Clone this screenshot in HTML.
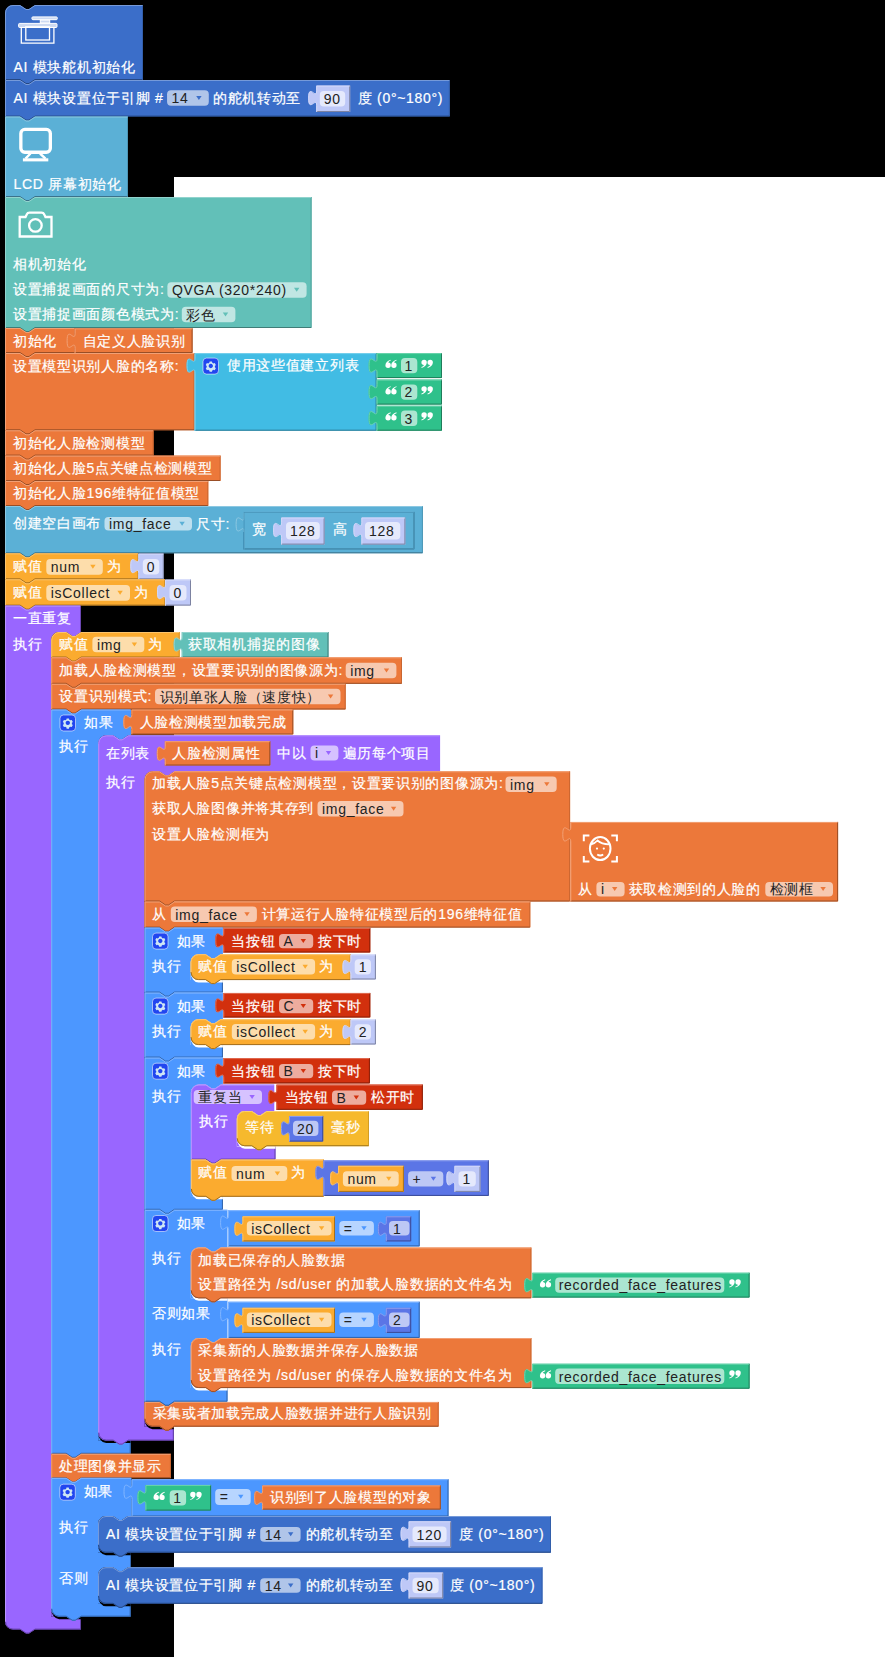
<!DOCTYPE html>
<html><head><meta charset="utf-8"><style>
html,body{margin:0;padding:0;background:#000;}
body{width:885px;height:1657px;overflow:hidden;position:relative;}
svg{position:absolute;left:0;top:0;}
text{font-family:"Liberation Sans", sans-serif;}
</style></head><body>
<svg width="885" height="1657" viewBox="0 0 885 1657">
<rect x="0" y="0" width="885" height="1657" fill="#000"/>
<rect x="174" y="177" width="711" height="1480" fill="#fff"/>
<path d="M 5,13 a 8,8 0 0,1 8,-8 H 20 l 6,4 3,0 6,-4 H 143 V 80 H 35 l -6,4 -3,0 -6,-4 H 5 Z" fill="#3b6ec9"/>
<path d="M 142.5,5 V 79.5" fill="none" stroke="#325eab" stroke-width="1"/>
<path d="M 142.5,79.5 H 35 l -6,4 -3,0 -6,-4 H 5" fill="none" stroke="#264883" stroke-width="1"/>
<path d="M 5.5,80 V 13 a 7.5,7.5 0 0,1 7.5,-7.5 H 20 l 6,4 3,0 6,-4 H 142.5" fill="none" stroke="#769ad9" stroke-width="1"/>
<g fill="#fff" fill-opacity="0.75" stroke="#fff" stroke-width="1"><rect x="31.9" y="16.9" width="25.4" height="2.8" rx="1"/><rect x="40.3" y="20" width="9.4" height="3" /><rect x="18.6" y="23.4" width="38.4" height="4.1" rx="1"/></g>
<g fill="none" stroke="#fff" stroke-width="1.3"><path d="M 21.3,27.5 V 43.1 H 53.9 V 27.5"/><rect x="25.8" y="26.8" width="23.7" height="13.2"/></g>
<text x="13.5" y="71.5" fill="#fff" stroke="#fff" stroke-width="0.2" font-size="14" letter-spacing="0.7">AI 模块舵机初始化</text>
<path d="M 5,80 H 20 l 6,4 3,0 6,-4 H 449.8 V 116.6 H 35 l -6,4 -3,0 -6,-4 H 5 Z" fill="#3b6ec9"/>
<path d="M 449.3,80 V 116.1" fill="none" stroke="#325eab" stroke-width="1"/>
<path d="M 449.3,116.1 H 35 l -6,4 -3,0 -6,-4 H 5" fill="none" stroke="#264883" stroke-width="1"/>
<path d="M 5.5,116.6 V 80.5 H 20 l 6,4 3,0 6,-4 H 449.3" fill="none" stroke="#769ad9" stroke-width="1"/>
<text x="13.5" y="102.5" fill="#fff" stroke="#fff" stroke-width="0.2" font-size="14" letter-spacing="0.7">AI 模块设置位于引脚 #</text>
<rect x="167.05" y="90.2" width="41.75" height="15.6" rx="4" fill="#fff" fill-opacity="0.6"/>
<text x="171.55" y="103.3" fill="#222" stroke="#222" stroke-width="0" font-size="14" letter-spacing="0.7">14</text>
<path d="M 196.2,95.9 h 5.4 l -2.7,4 Z" fill="#3b6ec9"/>
<text x="213" y="102.5" fill="#fff" stroke="#fff" stroke-width="0.2" font-size="14" letter-spacing="0.7">的舵机转动至</text>
<path d="M 316.2,85.6 H 350.2 V 112 H 316.2 V 105.6 c 0,-10 -8,8 -8,-7.5 s 8,2.5 8,-7.5 Z" fill="#bec8f7"/>
<path d="M 349.7,85.6 V 111.5 H 316.2" fill="none" stroke="#7c82a1" stroke-width="1"/>
<path d="M 316.7,112 V 105.6 c 0,-10 -8,8 -8,-7.5 s 8,2.5 8,-7.5 V 86.1 H 349.7" fill="none" stroke="#d2d8f9" stroke-width="1"/>
<rect x="319.8" y="91" width="25.4" height="15.6" rx="4" fill="#fff" fill-opacity="0.6"/>
<text x="323.8" y="104.1" fill="#222" stroke="#222" stroke-width="0" font-size="14" letter-spacing="0.7">90</text>
<text x="357.8" y="102.5" fill="#fff" stroke="#fff" stroke-width="0.2" font-size="14" letter-spacing="0.7">度 (0°~180°)</text>
<path d="M 5,116.5 H 20 l 6,4 3,0 6,-4 H 128 V 197 H 35 l -6,4 -3,0 -6,-4 H 5 Z" fill="#5bb0d6"/>
<path d="M 127.5,116.5 V 196.5" fill="none" stroke="#4d96b6" stroke-width="1"/>
<path d="M 127.5,196.5 H 35 l -6,4 -3,0 -6,-4 H 5" fill="none" stroke="#3b728b" stroke-width="1"/>
<path d="M 5.5,197 V 117 H 20 l 6,4 3,0 6,-4 H 127.5" fill="none" stroke="#8cc8e2" stroke-width="1"/>
<g fill="none" stroke="#fff" stroke-width="3.3"><rect x="20.85" y="129.45" width="29.5" height="22.8" rx="4"/></g><path d="M 30.5,153.5 L 25.5,158.6 M 40,153.5 L 45.5,158.6" fill="none" stroke="#fff" stroke-width="2.4"/><rect x="22.9" y="158.3" width="25.4" height="3.1" fill="#fff"/>
<text x="13.5" y="188.5" fill="#fff" stroke="#fff" stroke-width="0.2" font-size="14" letter-spacing="0.7">LCD 屏幕初始化</text>
<path d="M 5,197 H 20 l 6,4 3,0 6,-4 H 311.6 V 328 H 35 l -6,4 -3,0 -6,-4 H 5 Z" fill="#62c0b8"/>
<path d="M 311.1,197 V 327.5" fill="none" stroke="#53a39c" stroke-width="1"/>
<path d="M 311.1,327.5 H 35 l -6,4 -3,0 -6,-4 H 5" fill="none" stroke="#407d78" stroke-width="1"/>
<path d="M 5.5,328 V 197.5 H 20 l 6,4 3,0 6,-4 H 311.1" fill="none" stroke="#91d3cd" stroke-width="1"/>
<path d="M 19.7,217 H 25.5 l 1.2,-2.5 q 0.8,-1.8 2.8,-1.8 H 41.5 q 2,0 2.8,1.8 l 1.2,2.5 H 51.5 V 236.5 H 19.7 Z" fill="none" stroke="#fff" stroke-width="2.3"/><circle cx="35.4" cy="225.4" r="6.3" fill="none" stroke="#fff" stroke-width="2.3"/>
<text x="13" y="268.5" fill="#fff" stroke="#fff" stroke-width="0.2" font-size="14" letter-spacing="0.7">相机初始化</text>
<text x="13" y="293.9" fill="#fff" stroke="#fff" stroke-width="0.2" font-size="14" letter-spacing="0.7">设置捕捉画面的尺寸为:</text>
<rect x="167.4" y="282.2" width="139.2" height="15.5" rx="4" fill="#fff" fill-opacity="0.6"/>
<text x="171.9" y="295.25" fill="#222" stroke="#222" stroke-width="0" font-size="14" letter-spacing="0.7">QVGA (320*240)</text>
<path d="M 294,287.85 h 5.4 l -2.7,4 Z" fill="#62c0b8"/>
<text x="13" y="319.2" fill="#fff" stroke="#fff" stroke-width="0.2" font-size="14" letter-spacing="0.7">设置捕捉画面颜色模式为:</text>
<rect x="181.8" y="306.8" width="53.6" height="15.5" rx="4" fill="#fff" fill-opacity="0.6"/>
<text x="186.3" y="319.85" fill="#222" stroke="#222" stroke-width="0" font-size="14" letter-spacing="0.7">彩色</text>
<path d="M 222.8,312.45 h 5.4 l -2.7,4 Z" fill="#62c0b8"/>
<path d="M 5,328 H 20 l 6,4 3,0 6,-4 H 75 V 353 H 35 l -6,4 -3,0 -6,-4 H 5 Z" fill="#ec783a"/>
<path d="M 74.5,328 V 352.5" fill="none" stroke="#c96631" stroke-width="1"/>
<path d="M 74.5,352.5 H 35 l -6,4 -3,0 -6,-4 H 5" fill="none" stroke="#994e26" stroke-width="1"/>
<path d="M 5.5,353 V 328.5 H 20 l 6,4 3,0 6,-4 H 74.5" fill="none" stroke="#f2a075" stroke-width="1"/>
<text x="13" y="345.5" fill="#fff" stroke="#fff" stroke-width="0.2" font-size="14" letter-spacing="0.7">初始化</text>
<path d="M 74.6,328.3 H 192.6 V 353 H 74.6 V 348.3 c 0,-10 -8,8 -8,-7.5 s 8,2.5 8,-7.5 Z" fill="#ec783a"/>
<path d="M 192.1,328.3 V 352.5 H 74.6" fill="none" stroke="#994e26" stroke-width="1"/>
<path d="M 75.1,353 V 348.3 c 0,-10 -8,8 -8,-7.5 s 8,2.5 8,-7.5 V 328.8 H 192.1" fill="none" stroke="#f2a075" stroke-width="1"/>
<text x="82.5" y="345.5" fill="#fff" stroke="#fff" stroke-width="0.2" font-size="14" letter-spacing="0.7">自定义人脸识别</text>
<path d="M 5,353 H 20 l 6,4 3,0 6,-4 H 194.5 V 430.3 H 35 l -6,4 -3,0 -6,-4 H 5 Z" fill="#ec783a"/>
<path d="M 194,353 V 429.8" fill="none" stroke="#c96631" stroke-width="1"/>
<path d="M 194,429.8 H 35 l -6,4 -3,0 -6,-4 H 5" fill="none" stroke="#994e26" stroke-width="1"/>
<path d="M 5.5,430.3 V 353.5 H 20 l 6,4 3,0 6,-4 H 194" fill="none" stroke="#f2a075" stroke-width="1"/>
<text x="13" y="370.5" fill="#fff" stroke="#fff" stroke-width="0.2" font-size="14" letter-spacing="0.7">设置模型识别人脸的名称:</text>
<path d="M 194.6,353.1 H 376.6 V 430.7 H 194.6 V 373.1 c 0,-10 -8,8 -8,-7.5 s 8,2.5 8,-7.5 Z" fill="#41bce4"/>
<path d="M 376.1,353.1 V 430.2 H 194.6" fill="none" stroke="#2a7a94" stroke-width="1"/>
<path d="M 195.1,430.7 V 373.1 c 0,-10 -8,8 -8,-7.5 s 8,2.5 8,-7.5 V 353.6 H 376.1" fill="none" stroke="#7ad0ec" stroke-width="1"/>
<rect x="203" y="358.1" width="15.5" height="16" rx="3.5" fill="#2146f0" stroke="#fff" stroke-opacity="0.55" stroke-width="1"/>
<g transform="translate(210.8,366) scale(0.87)"><path d="M -1.3,-5.2 h 2.6 l 0.4,1.5 1.3,0.75 1.5,-0.45 1.3,2.25 -1.1,1.1 v 1.5 l 1.1,1.1 -1.3,2.25 -1.5,-0.45 -1.3,0.75 -0.4,1.5 h -2.6 l -0.4,-1.5 -1.3,-0.75 -1.5,0.45 -1.3,-2.25 1.1,-1.1 v -1.5 l -1.1,-1.1 1.3,-2.25 1.5,0.45 1.3,-0.75 Z M 0,-2.5 a 2.5,2.5 0 1,0 0.01,0 Z" fill="#cfe6f4" fill-rule="evenodd"/></g>
<text x="227" y="370.3" fill="#fff" stroke="#fff" stroke-width="0.2" font-size="14" letter-spacing="0.7">使用这些值建立列表</text>
<path d="M 376.6,353.1 H 442 V 378.1 H 376.6 V 373.1 c 0,-10 -8,8 -8,-7.5 s 8,2.5 8,-7.5 Z" fill="#2fc18b"/>
<path d="M 441.5,353.1 V 377.6 H 376.6" fill="none" stroke="#1f7d5a" stroke-width="1"/>
<path d="M 377.1,378.1 V 373.1 c 0,-10 -8,8 -8,-7.5 s 8,2.5 8,-7.5 V 353.6 H 441.5" fill="none" stroke="#6dd4ae" stroke-width="1"/>
<path d="M 5.2,0.3 Q 0.2,2.2 0,5.8 A 2.7,2.7 0 1,0 2.8,3.1 Q 3.3,1.8 5.4,1.2 Z" fill="#fff" transform="translate(385.4,359.4)"/>
<path d="M 5.2,0.3 Q 0.2,2.2 0,5.8 A 2.7,2.7 0 1,0 2.8,3.1 Q 3.3,1.8 5.4,1.2 Z" fill="#fff" transform="translate(391.2,359.4)"/>
<path d="M 5.2,0.3 Q 0.2,2.2 0,5.8 A 2.7,2.7 0 1,0 2.8,3.1 Q 3.3,1.8 5.4,1.2 Z" fill="#fff" transform="translate(421.4,359.7) rotate(180 2.7 4.25)"/>
<path d="M 5.2,0.3 Q 0.2,2.2 0,5.8 A 2.7,2.7 0 1,0 2.8,3.1 Q 3.3,1.8 5.4,1.2 Z" fill="#fff" transform="translate(427.5,359.7) rotate(180 2.7 4.25)"/>
<rect x="401" y="358" width="16.3" height="15.3" rx="4" fill="#fff" fill-opacity="0.6"/>
<text x="404.5" y="370.9" fill="#222" stroke="#222" stroke-width="0" font-size="14" letter-spacing="0.7">1</text>
<path d="M 376.6,379.6 H 442 V 404.6 H 376.6 V 399.6 c 0,-10 -8,8 -8,-7.5 s 8,2.5 8,-7.5 Z" fill="#2fc18b"/>
<path d="M 441.5,379.6 V 404.1 H 376.6" fill="none" stroke="#1f7d5a" stroke-width="1"/>
<path d="M 377.1,404.6 V 399.6 c 0,-10 -8,8 -8,-7.5 s 8,2.5 8,-7.5 V 380.1 H 441.5" fill="none" stroke="#6dd4ae" stroke-width="1"/>
<path d="M 5.2,0.3 Q 0.2,2.2 0,5.8 A 2.7,2.7 0 1,0 2.8,3.1 Q 3.3,1.8 5.4,1.2 Z" fill="#fff" transform="translate(385.4,385.9)"/>
<path d="M 5.2,0.3 Q 0.2,2.2 0,5.8 A 2.7,2.7 0 1,0 2.8,3.1 Q 3.3,1.8 5.4,1.2 Z" fill="#fff" transform="translate(391.2,385.9)"/>
<path d="M 5.2,0.3 Q 0.2,2.2 0,5.8 A 2.7,2.7 0 1,0 2.8,3.1 Q 3.3,1.8 5.4,1.2 Z" fill="#fff" transform="translate(421.4,386.2) rotate(180 2.7 4.25)"/>
<path d="M 5.2,0.3 Q 0.2,2.2 0,5.8 A 2.7,2.7 0 1,0 2.8,3.1 Q 3.3,1.8 5.4,1.2 Z" fill="#fff" transform="translate(427.5,386.2) rotate(180 2.7 4.25)"/>
<rect x="401" y="384.5" width="16.3" height="15.3" rx="4" fill="#fff" fill-opacity="0.6"/>
<text x="404.5" y="397.4" fill="#222" stroke="#222" stroke-width="0" font-size="14" letter-spacing="0.7">2</text>
<path d="M 376.6,405.7 H 442 V 430.7 H 376.6 V 425.7 c 0,-10 -8,8 -8,-7.5 s 8,2.5 8,-7.5 Z" fill="#2fc18b"/>
<path d="M 441.5,405.7 V 430.2 H 376.6" fill="none" stroke="#1f7d5a" stroke-width="1"/>
<path d="M 377.1,430.7 V 425.7 c 0,-10 -8,8 -8,-7.5 s 8,2.5 8,-7.5 V 406.2 H 441.5" fill="none" stroke="#6dd4ae" stroke-width="1"/>
<path d="M 5.2,0.3 Q 0.2,2.2 0,5.8 A 2.7,2.7 0 1,0 2.8,3.1 Q 3.3,1.8 5.4,1.2 Z" fill="#fff" transform="translate(385.4,412)"/>
<path d="M 5.2,0.3 Q 0.2,2.2 0,5.8 A 2.7,2.7 0 1,0 2.8,3.1 Q 3.3,1.8 5.4,1.2 Z" fill="#fff" transform="translate(391.2,412)"/>
<path d="M 5.2,0.3 Q 0.2,2.2 0,5.8 A 2.7,2.7 0 1,0 2.8,3.1 Q 3.3,1.8 5.4,1.2 Z" fill="#fff" transform="translate(421.4,412.3) rotate(180 2.7 4.25)"/>
<path d="M 5.2,0.3 Q 0.2,2.2 0,5.8 A 2.7,2.7 0 1,0 2.8,3.1 Q 3.3,1.8 5.4,1.2 Z" fill="#fff" transform="translate(427.5,412.3) rotate(180 2.7 4.25)"/>
<rect x="401" y="410.6" width="16.3" height="15.3" rx="4" fill="#fff" fill-opacity="0.6"/>
<text x="404.5" y="423.5" fill="#222" stroke="#222" stroke-width="0" font-size="14" letter-spacing="0.7">3</text>
<path d="M 5,430.3 H 20 l 6,4 3,0 6,-4 H 153.6 V 455.6 H 35 l -6,4 -3,0 -6,-4 H 5 Z" fill="#ec783a"/>
<path d="M 153.1,430.3 V 455.1" fill="none" stroke="#c96631" stroke-width="1"/>
<path d="M 153.1,455.1 H 35 l -6,4 -3,0 -6,-4 H 5" fill="none" stroke="#994e26" stroke-width="1"/>
<path d="M 5.5,455.6 V 430.8 H 20 l 6,4 3,0 6,-4 H 153.1" fill="none" stroke="#f2a075" stroke-width="1"/>
<text x="13" y="447.8" fill="#fff" stroke="#fff" stroke-width="0.2" font-size="14" letter-spacing="0.7">初始化人脸检测模型</text>
<path d="M 5,455.6 H 20 l 6,4 3,0 6,-4 H 220.6 V 481 H 35 l -6,4 -3,0 -6,-4 H 5 Z" fill="#ec783a"/>
<path d="M 220.1,455.6 V 480.5" fill="none" stroke="#c96631" stroke-width="1"/>
<path d="M 220.1,480.5 H 35 l -6,4 -3,0 -6,-4 H 5" fill="none" stroke="#994e26" stroke-width="1"/>
<path d="M 5.5,481 V 456.1 H 20 l 6,4 3,0 6,-4 H 220.1" fill="none" stroke="#f2a075" stroke-width="1"/>
<text x="13" y="473.1" fill="#fff" stroke="#fff" stroke-width="0.2" font-size="14" letter-spacing="0.7">初始化人脸5点关键点检测模型</text>
<path d="M 5,481 H 20 l 6,4 3,0 6,-4 H 208.3 V 506 H 35 l -6,4 -3,0 -6,-4 H 5 Z" fill="#ec783a"/>
<path d="M 207.8,481 V 505.5" fill="none" stroke="#c96631" stroke-width="1"/>
<path d="M 207.8,505.5 H 35 l -6,4 -3,0 -6,-4 H 5" fill="none" stroke="#994e26" stroke-width="1"/>
<path d="M 5.5,506 V 481.5 H 20 l 6,4 3,0 6,-4 H 207.8" fill="none" stroke="#f2a075" stroke-width="1"/>
<text x="13" y="498.3" fill="#fff" stroke="#fff" stroke-width="0.2" font-size="14" letter-spacing="0.7">初始化人脸196维特征值模型</text>
<path d="M 5,506 H 20 l 6,4 3,0 6,-4 H 422.9 V 553.3 H 35 l -6,4 -3,0 -6,-4 H 5 Z" fill="#5bb0d6"/>
<path d="M 422.4,506 V 552.8" fill="none" stroke="#4d96b6" stroke-width="1"/>
<path d="M 422.4,552.8 H 35 l -6,4 -3,0 -6,-4 H 5" fill="none" stroke="#3b728b" stroke-width="1"/>
<path d="M 5.5,553.3 V 506.5 H 20 l 6,4 3,0 6,-4 H 422.4" fill="none" stroke="#8cc8e2" stroke-width="1"/>
<text x="13" y="528" fill="#fff" stroke="#fff" stroke-width="0.2" font-size="14" letter-spacing="0.7">创建空白画布</text>
<rect x="104.5" y="517" width="87.5" height="13.6" rx="4" fill="#fff" fill-opacity="0.6"/>
<text x="109" y="529.1" fill="#222" stroke="#222" stroke-width="0" font-size="14" letter-spacing="0.7">img_face</text>
<path d="M 179.4,521.7 h 5.4 l -2.7,4 Z" fill="#5bb0d6"/>
<text x="196.1" y="528.5" fill="#fff" stroke="#fff" stroke-width="0.2" font-size="14" letter-spacing="0.7">尺寸:</text>
<path d="M 243.6,511.9 H 414.5 V 549.4 H 243.6 V 531.9 c 0,-10 -8,8 -8,-7.5 s 8,2.5 8,-7.5 Z" fill="#5bb0d6"/>
<path d="M 414,511.9 V 548.9 H 243.6" fill="none" stroke="#3b728b" stroke-width="1"/>
<path d="M 244.1,549.4 V 531.9 c 0,-10 -8,8 -8,-7.5 s 8,2.5 8,-7.5 V 512.4 H 414" fill="none" stroke="#8cc8e2" stroke-width="1"/>
<path d="M 243.6,549.4 V 532" stroke="#3f8fb5" stroke-width="1" fill="none"/>
<rect x="244.1" y="512.4" width="169.9" height="36.5" fill="none" stroke="#4796bd" stroke-width="1"/>
<text x="252" y="534.2" fill="#fff" stroke="#fff" stroke-width="0.2" font-size="14" letter-spacing="0.7">宽</text>
<path d="M 281.1,517.5 H 324.6 V 544.6 H 281.1 V 537.5 c 0,-10 -8,8 -8,-7.5 s 8,2.5 8,-7.5 Z" fill="#bec8f7"/>
<path d="M 324.1,517.5 V 544.1 H 281.1" fill="none" stroke="#7c82a1" stroke-width="1"/>
<path d="M 281.6,544.6 V 537.5 c 0,-10 -8,8 -8,-7.5 s 8,2.5 8,-7.5 V 518 H 324.1" fill="none" stroke="#d2d8f9" stroke-width="1"/>
<rect x="286" y="522" width="33.8" height="17.5" rx="4" fill="#fff" fill-opacity="0.6"/>
<text x="290" y="536.05" fill="#222" stroke="#222" stroke-width="0" font-size="14" letter-spacing="0.7">128</text>
<text x="332.5" y="534.2" fill="#fff" stroke="#fff" stroke-width="0.2" font-size="14" letter-spacing="0.7">高</text>
<path d="M 361.4,517.5 H 405.4 V 544.6 H 361.4 V 537.5 c 0,-10 -8,8 -8,-7.5 s 8,2.5 8,-7.5 Z" fill="#bec8f7"/>
<path d="M 404.9,517.5 V 544.1 H 361.4" fill="none" stroke="#7c82a1" stroke-width="1"/>
<path d="M 361.9,544.6 V 537.5 c 0,-10 -8,8 -8,-7.5 s 8,2.5 8,-7.5 V 518 H 404.9" fill="none" stroke="#d2d8f9" stroke-width="1"/>
<rect x="365" y="522" width="35.3" height="17.5" rx="4" fill="#fff" fill-opacity="0.6"/>
<text x="369" y="536.05" fill="#222" stroke="#222" stroke-width="0" font-size="14" letter-spacing="0.7">128</text>
<path d="M 5,553.3 H 20 l 6,4 3,0 6,-4 H 138.3 V 579.3 H 35 l -6,4 -3,0 -6,-4 H 5 Z" fill="#fbab2f"/>
<path d="M 137.8,553.3 V 578.8" fill="none" stroke="#d59128" stroke-width="1"/>
<path d="M 137.8,578.8 H 35 l -6,4 -3,0 -6,-4 H 5" fill="none" stroke="#a36f1f" stroke-width="1"/>
<path d="M 5.5,579.3 V 553.8 H 20 l 6,4 3,0 6,-4 H 137.8" fill="none" stroke="#fcc46d" stroke-width="1"/>
<text x="12.9" y="571" fill="#fff" stroke="#fff" stroke-width="0.2" font-size="14" letter-spacing="0.7">赋值</text>
<rect x="46.3" y="559" width="56.5" height="15.8" rx="4" fill="#fff" fill-opacity="0.6"/>
<text x="50.8" y="572.2" fill="#222" stroke="#222" stroke-width="0" font-size="14" letter-spacing="0.7">num</text>
<path d="M 90.2,564.8 h 5.4 l -2.7,4 Z" fill="#fbab2f"/>
<text x="106.7" y="571" fill="#fff" stroke="#fff" stroke-width="0.2" font-size="14" letter-spacing="0.7">为</text>
<path d="M 138.3,553.6 H 163.8 V 579.3 H 138.3 V 573.6 c 0,-10 -8,8 -8,-7.5 s 8,2.5 8,-7.5 Z" fill="#bec8f7"/>
<path d="M 163.3,553.6 V 578.8 H 138.3" fill="none" stroke="#7c82a1" stroke-width="1"/>
<path d="M 138.8,579.3 V 573.6 c 0,-10 -8,8 -8,-7.5 s 8,2.5 8,-7.5 V 554.1 H 163.3" fill="none" stroke="#d2d8f9" stroke-width="1"/>
<rect x="142.8" y="559" width="16.5" height="15.4" rx="4" fill="#fff" fill-opacity="0.6"/>
<text x="146.8" y="572" fill="#222" stroke="#222" stroke-width="0" font-size="14" letter-spacing="0.7">0</text>
<path d="M 5,579.3 H 20 l 6,4 3,0 6,-4 H 165 V 605.6 H 35 l -6,4 -3,0 -6,-4 H 5 Z" fill="#fbab2f"/>
<path d="M 164.5,579.3 V 605.1" fill="none" stroke="#d59128" stroke-width="1"/>
<path d="M 164.5,605.1 H 35 l -6,4 -3,0 -6,-4 H 5" fill="none" stroke="#a36f1f" stroke-width="1"/>
<path d="M 5.5,605.6 V 579.8 H 20 l 6,4 3,0 6,-4 H 164.5" fill="none" stroke="#fcc46d" stroke-width="1"/>
<text x="12.9" y="597" fill="#fff" stroke="#fff" stroke-width="0.2" font-size="14" letter-spacing="0.7">赋值</text>
<rect x="46.3" y="585" width="83.7" height="15.8" rx="4" fill="#fff" fill-opacity="0.6"/>
<text x="50.8" y="598.2" fill="#222" stroke="#222" stroke-width="0" font-size="14" letter-spacing="0.7">isCollect</text>
<path d="M 117.4,590.8 h 5.4 l -2.7,4 Z" fill="#fbab2f"/>
<text x="133.8" y="597" fill="#fff" stroke="#fff" stroke-width="0.2" font-size="14" letter-spacing="0.7">为</text>
<path d="M 165,579.6 H 191 V 605.6 H 165 V 599.6 c 0,-10 -8,8 -8,-7.5 s 8,2.5 8,-7.5 Z" fill="#bec8f7"/>
<path d="M 190.5,579.6 V 605.1 H 165" fill="none" stroke="#7c82a1" stroke-width="1"/>
<path d="M 165.5,605.6 V 599.6 c 0,-10 -8,8 -8,-7.5 s 8,2.5 8,-7.5 V 580.1 H 190.5" fill="none" stroke="#d2d8f9" stroke-width="1"/>
<rect x="169.5" y="585" width="17" height="15.4" rx="4" fill="#fff" fill-opacity="0.6"/>
<text x="173.5" y="598" fill="#222" stroke="#222" stroke-width="0" font-size="14" letter-spacing="0.7">0</text>
<path d="M 5,605.6 H 20 l 6,4 3,0 6,-4 H 80.7 V 632 H 81.2 l -6,4 -3,0 -6,-4 H 59.2 a 8,8 0 0,0 -8,8 V 1616.7 H 81 V 1629.6 H 35 l -6,4 -3,0 -6,-4 H 13 a 8,8 0 0,1 -8,-8 Z" fill="#9966ff"/>
<path d="M 80.5,1616.7 V 1629.1 H 35 l -6,4 -3,0 -6,-4 H 13 a 7.5,7.5 0 0,1 -7.5,-7.5" fill="none" stroke="#6342a6" stroke-width="1"/>
<path d="M 5.5,1621.6 V 606.1 H 20 l 6,4 3,0 6,-4 H 80.2" fill="none" stroke="#b894ff" stroke-width="1"/>
<text x="13" y="622.9" fill="#fff" stroke="#fff" stroke-width="0.2" font-size="14" letter-spacing="0.7">一直重复</text>
<text x="13" y="648.9" fill="#fff" stroke="#fff" stroke-width="0.2" font-size="14" letter-spacing="0.7">执行</text>
<path d="M 51.2,640 a 8,8 0 0,1 8,-8 H 66.2 l 6,4 3,0 6,-4 H 179.7 V 657.5 H 81.2 l -6,4 -3,0 -6,-4 H 51.2 Z" fill="#fbab2f"/>
<path d="M 179.2,632 V 657" fill="none" stroke="#d59128" stroke-width="1"/>
<path d="M 179.2,657 H 81.2 l -6,4 -3,0 -6,-4 H 51.2" fill="none" stroke="#a36f1f" stroke-width="1"/>
<path d="M 51.7,657.5 V 640 a 7.5,7.5 0 0,1 7.5,-7.5 H 66.2 l 6,4 3,0 6,-4 H 179.2" fill="none" stroke="#fcc46d" stroke-width="1"/>
<text x="59.3" y="649" fill="#fff" stroke="#fff" stroke-width="0.2" font-size="14" letter-spacing="0.7">赋值</text>
<rect x="92.4" y="636.7" width="51.9" height="15.6" rx="4" fill="#fff" fill-opacity="0.6"/>
<text x="96.9" y="649.8" fill="#222" stroke="#222" stroke-width="0" font-size="14" letter-spacing="0.7">img</text>
<path d="M 131.7,642.4 h 5.4 l -2.7,4 Z" fill="#fbab2f"/>
<text x="148.2" y="649" fill="#fff" stroke="#fff" stroke-width="0.2" font-size="14" letter-spacing="0.7">为</text>
<path d="M 181.7,632 H 328.5 V 657.5 H 181.7 V 652 c 0,-10 -8,8 -8,-7.5 s 8,2.5 8,-7.5 Z" fill="#62c0b8"/>
<path d="M 328,632 V 657 H 181.7" fill="none" stroke="#407d78" stroke-width="1"/>
<path d="M 182.2,657.5 V 652 c 0,-10 -8,8 -8,-7.5 s 8,2.5 8,-7.5 V 632.5 H 328" fill="none" stroke="#91d3cd" stroke-width="1"/>
<text x="188.1" y="649" fill="#fff" stroke="#fff" stroke-width="0.2" font-size="14" letter-spacing="0.7">获取相机捕捉的图像</text>
<path d="M 51.2,657.3 H 66.2 l 6,4 3,0 6,-4 H 402 V 683.8 H 81.2 l -6,4 -3,0 -6,-4 H 51.2 Z" fill="#ec783a"/>
<path d="M 401.5,657.3 V 683.3" fill="none" stroke="#c96631" stroke-width="1"/>
<path d="M 401.5,683.3 H 81.2 l -6,4 -3,0 -6,-4 H 51.2" fill="none" stroke="#994e26" stroke-width="1"/>
<path d="M 51.7,683.8 V 657.8 H 66.2 l 6,4 3,0 6,-4 H 401.5" fill="none" stroke="#f2a075" stroke-width="1"/>
<text x="59.3" y="675" fill="#fff" stroke="#fff" stroke-width="0.2" font-size="14" letter-spacing="0.7">加载人脸检测模型，设置要识别的图像源为:</text>
<rect x="345.7" y="662.7" width="50.7" height="15.6" rx="4" fill="#fff" fill-opacity="0.6"/>
<text x="350.2" y="675.8" fill="#222" stroke="#222" stroke-width="0" font-size="14" letter-spacing="0.7">img</text>
<path d="M 383.8,668.4 h 5.4 l -2.7,4 Z" fill="#ec783a"/>
<path d="M 51.2,683.8 H 66.2 l 6,4 3,0 6,-4 H 345.7 V 709.5 H 81.2 l -6,4 -3,0 -6,-4 H 51.2 Z" fill="#ec783a"/>
<path d="M 345.2,683.8 V 709" fill="none" stroke="#c96631" stroke-width="1"/>
<path d="M 345.2,709 H 81.2 l -6,4 -3,0 -6,-4 H 51.2" fill="none" stroke="#994e26" stroke-width="1"/>
<path d="M 51.7,709.5 V 684.3 H 66.2 l 6,4 3,0 6,-4 H 345.2" fill="none" stroke="#f2a075" stroke-width="1"/>
<text x="59.3" y="701" fill="#fff" stroke="#fff" stroke-width="0.2" font-size="14" letter-spacing="0.7">设置识别模式:</text>
<rect x="155" y="688.7" width="185.5" height="15.6" rx="4" fill="#fff" fill-opacity="0.6"/>
<text x="159.5" y="701.8" fill="#222" stroke="#222" stroke-width="0" font-size="14" letter-spacing="0.7">识别单张人脸（速度快）</text>
<path d="M 327.9,694.4 h 5.4 l -2.7,4 Z" fill="#ec783a"/>
<path d="M 51.2,709.5 H 66.2 l 6,4 3,0 6,-4 H 131 V 735.3 H 128.2 l -6,4 -3,0 -6,-4 H 106.2 a 8,8 0 0,0 -8,8 V 1440.6 H 130.7 V 1453.8 H 81.2 l -6,4 -3,0 -6,-4 H 51.2 Z" fill="#4c97ff"/>
<path d="M 130.2,1440.6 V 1453.3 H 81.2 l -6,4 -3,0 -6,-4 H 51.2" fill="none" stroke="#3162a6" stroke-width="1"/>
<path d="M 51.7,1453.8 V 710 H 66.2 l 6,4 3,0 6,-4 H 130.5" fill="none" stroke="#82b6ff" stroke-width="1"/>
<path d="M 131.3,709.5 H 293.3 V 734.5 H 131.3 V 729.5 c 0,-10 -8,8 -8,-7.5 s 8,2.5 8,-7.5 Z" fill="#ec783a"/>
<path d="M 292.8,709.5 V 734 H 131.3" fill="none" stroke="#994e26" stroke-width="1"/>
<path d="M 131.8,734.5 V 729.5 c 0,-10 -8,8 -8,-7.5 s 8,2.5 8,-7.5 V 710 H 292.8" fill="none" stroke="#f2a075" stroke-width="1"/>
<text x="139.6" y="727.1" fill="#fff" stroke="#fff" stroke-width="0.2" font-size="14" letter-spacing="0.7">人脸检测模型加载完成</text>
<rect x="60" y="715" width="15.5" height="16" rx="3.5" fill="#2146f0" stroke="#fff" stroke-opacity="0.55" stroke-width="1"/>
<g transform="translate(67.8,722.9) scale(0.87)"><path d="M -1.3,-5.2 h 2.6 l 0.4,1.5 1.3,0.75 1.5,-0.45 1.3,2.25 -1.1,1.1 v 1.5 l 1.1,1.1 -1.3,2.25 -1.5,-0.45 -1.3,0.75 -0.4,1.5 h -2.6 l -0.4,-1.5 -1.3,-0.75 -1.5,0.45 -1.3,-2.25 1.1,-1.1 v -1.5 l -1.1,-1.1 1.3,-2.25 1.5,0.45 1.3,-0.75 Z M 0,-2.5 a 2.5,2.5 0 1,0 0.01,0 Z" fill="#cfe6f4" fill-rule="evenodd"/></g>
<text x="84" y="727.1" fill="#fff" stroke="#fff" stroke-width="0.2" font-size="14" letter-spacing="0.7">如果</text>
<text x="59" y="750.5" fill="#fff" stroke="#fff" stroke-width="0.2" font-size="14" letter-spacing="0.7">执行</text>
<path d="M 98.2,1432.6 H 106.2 V 1440.6 H 98.2 Z" fill="#4c97ff"/>
<path d="M 98.2,1432.6 A 8,10.5 0 0,0 106.2,1443.1 H 130.5 V 1440.6 H 106.2 A 8,8 0 0,1 98.2,1432.6 Z" fill="#000"/>
<path d="M 98.2,743.3 a 8,8 0 0,1 8,-8 H 113.2 l 6,4 3,0 6,-4 H 440.1 V 771.4 H 174.5 l -6,4 -3,0 -6,-4 H 152.5 a 8,8 0 0,0 -8,8 V 1426.7 H 173.8 V 1440.6 H 128.2 l -6,4 -3,0 -6,-4 H 106.2 a 8,8 0 0,1 -8,-8 Z" fill="#9966ff"/>
<path d="M 173.3,1426.7 V 1440.1 H 128.2 l -6,4 -3,0 -6,-4 H 106.2 a 7.5,7.5 0 0,1 -7.5,-7.5" fill="none" stroke="#6342a6" stroke-width="1"/>
<path d="M 98.7,1432.6 V 743.3 a 7.5,7.5 0 0,1 7.5,-7.5 H 113.2 l 6,4 3,0 6,-4 H 439.6" fill="none" stroke="#b894ff" stroke-width="1"/>
<text x="106" y="757.5" fill="#fff" stroke="#fff" stroke-width="0.2" font-size="14" letter-spacing="0.7">在列表</text>
<path d="M 164.8,741.2 H 270.3 V 765.5 H 164.8 V 761.2 c 0,-10 -8,8 -8,-7.5 s 8,2.5 8,-7.5 Z" fill="#ec783a"/>
<path d="M 269.8,741.2 V 765 H 164.8" fill="none" stroke="#994e26" stroke-width="1"/>
<path d="M 165.3,765.5 V 761.2 c 0,-10 -8,8 -8,-7.5 s 8,2.5 8,-7.5 V 741.7 H 269.8" fill="none" stroke="#f2a075" stroke-width="1"/>
<text x="172.3" y="757.8" fill="#fff" stroke="#fff" stroke-width="0.2" font-size="14" letter-spacing="0.7">人脸检测属性</text>
<text x="277.4" y="757.5" fill="#fff" stroke="#fff" stroke-width="0.2" font-size="14" letter-spacing="0.7">中以</text>
<rect x="310.5" y="745.5" width="27.9" height="15" rx="4" fill="#fff" fill-opacity="0.6"/>
<text x="315" y="758.3" fill="#222" stroke="#222" stroke-width="0" font-size="14" letter-spacing="0.7">i</text>
<path d="M 325.8,750.9 h 5.4 l -2.7,4 Z" fill="#9966ff"/>
<text x="342.7" y="757.5" fill="#fff" stroke="#fff" stroke-width="0.2" font-size="14" letter-spacing="0.7">遍历每个项目</text>
<text x="106" y="786.8" fill="#fff" stroke="#fff" stroke-width="0.2" font-size="14" letter-spacing="0.7">执行</text>
<path d="M 144.5,779.3 a 8,8 0 0,1 8,-8 H 159.5 l 6,4 3,0 6,-4 H 570.1 V 901.5 H 174.5 l -6,4 -3,0 -6,-4 H 144.5 Z" fill="#ec783a"/>
<path d="M 569.6,771.3 V 901" fill="none" stroke="#c96631" stroke-width="1"/>
<path d="M 569.6,901 H 174.5 l -6,4 -3,0 -6,-4 H 144.5" fill="none" stroke="#994e26" stroke-width="1"/>
<path d="M 145,901.5 V 779.3 a 7.5,7.5 0 0,1 7.5,-7.5 H 159.5 l 6,4 3,0 6,-4 H 569.6" fill="none" stroke="#f2a075" stroke-width="1"/>
<text x="152.4" y="788.2" fill="#fff" stroke="#fff" stroke-width="0.2" font-size="14" letter-spacing="0.7">加载人脸5点关键点检测模型，设置要识别的图像源为:</text>
<rect x="505.5" y="776.5" width="51.2" height="15.5" rx="4" fill="#fff" fill-opacity="0.6"/>
<text x="510" y="789.55" fill="#222" stroke="#222" stroke-width="0" font-size="14" letter-spacing="0.7">img</text>
<path d="M 544.1,782.15 h 5.4 l -2.7,4 Z" fill="#ec783a"/>
<text x="152.4" y="813.1" fill="#fff" stroke="#fff" stroke-width="0.2" font-size="14" letter-spacing="0.7">获取人脸图像并将其存到</text>
<rect x="317.5" y="801" width="86" height="15.5" rx="4" fill="#fff" fill-opacity="0.6"/>
<text x="322" y="814.05" fill="#222" stroke="#222" stroke-width="0" font-size="14" letter-spacing="0.7">img_face</text>
<path d="M 390.9,806.65 h 5.4 l -2.7,4 Z" fill="#ec783a"/>
<text x="152.4" y="838.9" fill="#fff" stroke="#fff" stroke-width="0.2" font-size="14" letter-spacing="0.7">设置人脸检测框为</text>
<path d="M 570.3,821.9 H 838.1 V 901.5 H 570.3 V 841.9 c 0,-10 -8,8 -8,-7.5 s 8,2.5 8,-7.5 Z" fill="#ec783a"/>
<path d="M 837.6,821.9 V 901 H 570.3" fill="none" stroke="#994e26" stroke-width="1"/>
<path d="M 570.8,901.5 V 841.9 c 0,-10 -8,8 -8,-7.5 s 8,2.5 8,-7.5 V 822.4 H 837.6" fill="none" stroke="#f2a075" stroke-width="1"/>
<g fill="none" stroke="#fff" stroke-width="2"><path d="M 583.8,841.2 V 835.6 H 589.4 M 611.3,835.6 H 616.9 V 841.2 M 616.9,856 V 861.6 H 611.3 M 589.4,861.6 H 583.8 V 856"/><ellipse cx="600.2" cy="848.6" rx="10.3" ry="11.5"/><path d="M 590.5,844.5 Q 595,843.5 597.5,840.5 Q 602,844.5 609.5,844.3" stroke-width="1.8"/><path d="M 597.2,854.5 Q 600.2,856.5 603.2,854.5" stroke-width="1.8"/></g><circle cx="597" cy="848.6" r="1.1" fill="#fff"/><circle cx="603.8" cy="848.6" r="1.1" fill="#fff"/>
<text x="577.8" y="893.5" fill="#fff" stroke="#fff" stroke-width="0.2" font-size="14" letter-spacing="0.7">从</text>
<rect x="596.4" y="881.9" width="28.2" height="14.5" rx="4" fill="#fff" fill-opacity="0.6"/>
<text x="600.9" y="894.45" fill="#222" stroke="#222" stroke-width="0" font-size="14" letter-spacing="0.7">i</text>
<path d="M 612,887.05 h 5.4 l -2.7,4 Z" fill="#ec783a"/>
<text x="628.6" y="893.5" fill="#fff" stroke="#fff" stroke-width="0.2" font-size="14" letter-spacing="0.7">获取检测到的人脸的</text>
<rect x="765.3" y="881.9" width="67.7" height="14.5" rx="4" fill="#fff" fill-opacity="0.6"/>
<text x="769.8" y="894.45" fill="#222" stroke="#222" stroke-width="0" font-size="14" letter-spacing="0.7">检测框</text>
<path d="M 820.4,887.05 h 5.4 l -2.7,4 Z" fill="#ec783a"/>
<path d="M 144.5,901.5 H 159.5 l 6,4 3,0 6,-4 H 530.3 V 927.6 H 174.5 l -6,4 -3,0 -6,-4 H 144.5 Z" fill="#ec783a"/>
<path d="M 529.8,901.5 V 927.1" fill="none" stroke="#c96631" stroke-width="1"/>
<path d="M 529.8,927.1 H 174.5 l -6,4 -3,0 -6,-4 H 144.5" fill="none" stroke="#994e26" stroke-width="1"/>
<path d="M 145,927.6 V 902 H 159.5 l 6,4 3,0 6,-4 H 529.8" fill="none" stroke="#f2a075" stroke-width="1"/>
<text x="152.4" y="918.5" fill="#fff" stroke="#fff" stroke-width="0.2" font-size="14" letter-spacing="0.7">从</text>
<rect x="170.8" y="906.5" width="86.1" height="15.5" rx="4" fill="#fff" fill-opacity="0.6"/>
<text x="175.3" y="919.55" fill="#222" stroke="#222" stroke-width="0" font-size="14" letter-spacing="0.7">img_face</text>
<path d="M 244.3,912.15 h 5.4 l -2.7,4 Z" fill="#ec783a"/>
<text x="261.8" y="918.5" fill="#fff" stroke="#fff" stroke-width="0.2" font-size="14" letter-spacing="0.7">计算运行人脸特征模型后的196维特征值</text>
<path d="M 144.5,927.6 H 159.5 l 6,4 3,0 6,-4 H 222.9 V 954.2 H 220.6 l -6,4 -3,0 -6,-4 H 198.6 a 8,8 0 0,0 -8,8 V 980 H 222.9 V 992.6 H 174.5 l -6,4 -3,0 -6,-4 H 144.5 Z" fill="#4c97ff"/>
<path d="M 222.4,980 V 992.1 H 174.5 l -6,4 -3,0 -6,-4 H 144.5" fill="none" stroke="#3162a6" stroke-width="1"/>
<path d="M 145,992.6 V 928.1 H 159.5 l 6,4 3,0 6,-4 H 222.4" fill="none" stroke="#82b6ff" stroke-width="1"/>
<path d="M 223.3,927.9 H 370.3 V 952.5 H 223.3 V 947.9 c 0,-10 -8,8 -8,-7.5 s 8,2.5 8,-7.5 Z" fill="#d2300d"/>
<path d="M 369.8,927.9 V 952 H 223.3" fill="none" stroke="#881f08" stroke-width="1"/>
<path d="M 223.8,952.5 V 947.9 c 0,-10 -8,8 -8,-7.5 s 8,2.5 8,-7.5 V 928.4 H 369.8" fill="none" stroke="#e06e56" stroke-width="1"/>
<text x="231.2" y="945.5" fill="#fff" stroke="#fff" stroke-width="0.2" font-size="14" letter-spacing="0.7">当按钮</text>
<rect x="279" y="934" width="34.2" height="14.2" rx="4" fill="#fff" fill-opacity="0.6"/>
<text x="283.5" y="946.4" fill="#222" stroke="#222" stroke-width="0" font-size="14" letter-spacing="0.7">A</text>
<path d="M 300.6,939 h 5.4 l -2.7,4 Z" fill="#d2300d"/>
<text x="318" y="945.5" fill="#fff" stroke="#fff" stroke-width="0.2" font-size="14" letter-spacing="0.7">按下时</text>
<rect x="152.5" y="933.1" width="15.5" height="16" rx="3.5" fill="#2146f0" stroke="#fff" stroke-opacity="0.55" stroke-width="1"/>
<g transform="translate(160.3,941) scale(0.87)"><path d="M -1.3,-5.2 h 2.6 l 0.4,1.5 1.3,0.75 1.5,-0.45 1.3,2.25 -1.1,1.1 v 1.5 l 1.1,1.1 -1.3,2.25 -1.5,-0.45 -1.3,0.75 -0.4,1.5 h -2.6 l -0.4,-1.5 -1.3,-0.75 -1.5,0.45 -1.3,-2.25 1.1,-1.1 v -1.5 l -1.1,-1.1 1.3,-2.25 1.5,0.45 1.3,-0.75 Z M 0,-2.5 a 2.5,2.5 0 1,0 0.01,0 Z" fill="#cfe6f4" fill-rule="evenodd"/></g>
<text x="176.8" y="945.5" fill="#fff" stroke="#fff" stroke-width="0.2" font-size="14" letter-spacing="0.7">如果</text>
<text x="152" y="970.5" fill="#fff" stroke="#fff" stroke-width="0.2" font-size="14" letter-spacing="0.7">执行</text>
<path d="M 190.6,972.1 H 198.6 V 980.1 H 190.6 Z" fill="#4c97ff"/>
<path d="M 190.6,972.1 A 8,10.5 0 0,0 198.6,982.6 H 222.9 V 980.1 H 198.6 A 8,8 0 0,1 190.6,972.1 Z" fill="#fff"/>
<path d="M 190.6,962.2 a 8,8 0 0,1 8,-8 H 205.6 l 6,4 3,0 6,-4 H 350.6 V 980.1 H 220.6 l -6,4 -3,0 -6,-4 H 198.6 a 8,8 0 0,1 -8,-8 Z" fill="#fbab2f"/>
<path d="M 350.1,954.2 V 979.6" fill="none" stroke="#d59128" stroke-width="1"/>
<path d="M 350.1,979.6 H 220.6 l -6,4 -3,0 -6,-4 H 198.6 a 7.5,7.5 0 0,1 -7.5,-7.5" fill="none" stroke="#a36f1f" stroke-width="1"/>
<path d="M 191.1,972.1 V 962.2 a 7.5,7.5 0 0,1 7.5,-7.5 H 205.6 l 6,4 3,0 6,-4 H 350.1" fill="none" stroke="#fcc46d" stroke-width="1"/>
<text x="197.9" y="971" fill="#fff" stroke="#fff" stroke-width="0.2" font-size="14" letter-spacing="0.7">赋值</text>
<rect x="231.8" y="959" width="83.3" height="15.5" rx="4" fill="#fff" fill-opacity="0.6"/>
<text x="236.3" y="972.05" fill="#222" stroke="#222" stroke-width="0" font-size="14" letter-spacing="0.7">isCollect</text>
<path d="M 302.5,964.65 h 5.4 l -2.7,4 Z" fill="#fbab2f"/>
<text x="319.4" y="971" fill="#fff" stroke="#fff" stroke-width="0.2" font-size="14" letter-spacing="0.7">为</text>
<path d="M 350.5,954.5 H 375.9 V 979.5 H 350.5 V 974.5 c 0,-10 -8,8 -8,-7.5 s 8,2.5 8,-7.5 Z" fill="#bec8f7"/>
<path d="M 375.4,954.5 V 979 H 350.5" fill="none" stroke="#7c82a1" stroke-width="1"/>
<path d="M 351,979.5 V 974.5 c 0,-10 -8,8 -8,-7.5 s 8,2.5 8,-7.5 V 955 H 375.4" fill="none" stroke="#d2d8f9" stroke-width="1"/>
<rect x="354.7" y="959.2" width="16.3" height="15.4" rx="4" fill="#fff" fill-opacity="0.6"/>
<text x="358.7" y="972.2" fill="#222" stroke="#222" stroke-width="0" font-size="14" letter-spacing="0.7">1</text>
<path d="M 144.5,992.6 H 159.5 l 6,4 3,0 6,-4 H 222.9 V 1019.2 H 220.6 l -6,4 -3,0 -6,-4 H 198.6 a 8,8 0 0,0 -8,8 V 1045 H 222.9 V 1057.6 H 174.5 l -6,4 -3,0 -6,-4 H 144.5 Z" fill="#4c97ff"/>
<path d="M 222.4,1045 V 1057.1 H 174.5 l -6,4 -3,0 -6,-4 H 144.5" fill="none" stroke="#3162a6" stroke-width="1"/>
<path d="M 145,1057.6 V 993.1 H 159.5 l 6,4 3,0 6,-4 H 222.4" fill="none" stroke="#82b6ff" stroke-width="1"/>
<path d="M 223.3,992.9 H 370.3 V 1017.5 H 223.3 V 1012.9 c 0,-10 -8,8 -8,-7.5 s 8,2.5 8,-7.5 Z" fill="#d2300d"/>
<path d="M 369.8,992.9 V 1017 H 223.3" fill="none" stroke="#881f08" stroke-width="1"/>
<path d="M 223.8,1017.5 V 1012.9 c 0,-10 -8,8 -8,-7.5 s 8,2.5 8,-7.5 V 993.4 H 369.8" fill="none" stroke="#e06e56" stroke-width="1"/>
<text x="231.2" y="1010.5" fill="#fff" stroke="#fff" stroke-width="0.2" font-size="14" letter-spacing="0.7">当按钮</text>
<rect x="279" y="999" width="34.2" height="14.2" rx="4" fill="#fff" fill-opacity="0.6"/>
<text x="283.5" y="1011.4" fill="#222" stroke="#222" stroke-width="0" font-size="14" letter-spacing="0.7">C</text>
<path d="M 300.6,1004 h 5.4 l -2.7,4 Z" fill="#d2300d"/>
<text x="318" y="1010.5" fill="#fff" stroke="#fff" stroke-width="0.2" font-size="14" letter-spacing="0.7">按下时</text>
<rect x="152.5" y="998.1" width="15.5" height="16" rx="3.5" fill="#2146f0" stroke="#fff" stroke-opacity="0.55" stroke-width="1"/>
<g transform="translate(160.3,1006) scale(0.87)"><path d="M -1.3,-5.2 h 2.6 l 0.4,1.5 1.3,0.75 1.5,-0.45 1.3,2.25 -1.1,1.1 v 1.5 l 1.1,1.1 -1.3,2.25 -1.5,-0.45 -1.3,0.75 -0.4,1.5 h -2.6 l -0.4,-1.5 -1.3,-0.75 -1.5,0.45 -1.3,-2.25 1.1,-1.1 v -1.5 l -1.1,-1.1 1.3,-2.25 1.5,0.45 1.3,-0.75 Z M 0,-2.5 a 2.5,2.5 0 1,0 0.01,0 Z" fill="#cfe6f4" fill-rule="evenodd"/></g>
<text x="176.8" y="1010.5" fill="#fff" stroke="#fff" stroke-width="0.2" font-size="14" letter-spacing="0.7">如果</text>
<text x="152" y="1035.5" fill="#fff" stroke="#fff" stroke-width="0.2" font-size="14" letter-spacing="0.7">执行</text>
<path d="M 190.6,1037.1 H 198.6 V 1045.1 H 190.6 Z" fill="#4c97ff"/>
<path d="M 190.6,1037.1 A 8,10.5 0 0,0 198.6,1047.6 H 222.9 V 1045.1 H 198.6 A 8,8 0 0,1 190.6,1037.1 Z" fill="#fff"/>
<path d="M 190.6,1027.2 a 8,8 0 0,1 8,-8 H 205.6 l 6,4 3,0 6,-4 H 350.6 V 1045.1 H 220.6 l -6,4 -3,0 -6,-4 H 198.6 a 8,8 0 0,1 -8,-8 Z" fill="#fbab2f"/>
<path d="M 350.1,1019.2 V 1044.6" fill="none" stroke="#d59128" stroke-width="1"/>
<path d="M 350.1,1044.6 H 220.6 l -6,4 -3,0 -6,-4 H 198.6 a 7.5,7.5 0 0,1 -7.5,-7.5" fill="none" stroke="#a36f1f" stroke-width="1"/>
<path d="M 191.1,1037.1 V 1027.2 a 7.5,7.5 0 0,1 7.5,-7.5 H 205.6 l 6,4 3,0 6,-4 H 350.1" fill="none" stroke="#fcc46d" stroke-width="1"/>
<text x="197.9" y="1036" fill="#fff" stroke="#fff" stroke-width="0.2" font-size="14" letter-spacing="0.7">赋值</text>
<rect x="231.8" y="1024" width="83.3" height="15.5" rx="4" fill="#fff" fill-opacity="0.6"/>
<text x="236.3" y="1037.05" fill="#222" stroke="#222" stroke-width="0" font-size="14" letter-spacing="0.7">isCollect</text>
<path d="M 302.5,1029.65 h 5.4 l -2.7,4 Z" fill="#fbab2f"/>
<text x="319.4" y="1036" fill="#fff" stroke="#fff" stroke-width="0.2" font-size="14" letter-spacing="0.7">为</text>
<path d="M 350.5,1019.5 H 375.9 V 1044.5 H 350.5 V 1039.5 c 0,-10 -8,8 -8,-7.5 s 8,2.5 8,-7.5 Z" fill="#bec8f7"/>
<path d="M 375.4,1019.5 V 1044 H 350.5" fill="none" stroke="#7c82a1" stroke-width="1"/>
<path d="M 351,1044.5 V 1039.5 c 0,-10 -8,8 -8,-7.5 s 8,2.5 8,-7.5 V 1020 H 375.4" fill="none" stroke="#d2d8f9" stroke-width="1"/>
<rect x="354.7" y="1024.2" width="16.3" height="15.4" rx="4" fill="#fff" fill-opacity="0.6"/>
<text x="358.7" y="1037.2" fill="#222" stroke="#222" stroke-width="0" font-size="14" letter-spacing="0.7">2</text>
<path d="M 144.5,1057.6 H 159.5 l 6,4 3,0 6,-4 H 222.9 V 1084.6 H 220.9 l -6,4 -3,0 -6,-4 H 198.9 a 8,8 0 0,0 -8,8 V 1196.5 H 222.9 V 1209.8 H 174.5 l -6,4 -3,0 -6,-4 H 144.5 Z" fill="#4c97ff"/>
<path d="M 222.4,1196.5 V 1209.3 H 174.5 l -6,4 -3,0 -6,-4 H 144.5" fill="none" stroke="#3162a6" stroke-width="1"/>
<path d="M 145,1209.8 V 1058.1 H 159.5 l 6,4 3,0 6,-4 H 222.4" fill="none" stroke="#82b6ff" stroke-width="1"/>
<path d="M 223.3,1058.1 H 369.9 V 1083.4 H 223.3 V 1078.1 c 0,-10 -8,8 -8,-7.5 s 8,2.5 8,-7.5 Z" fill="#d2300d"/>
<path d="M 369.4,1058.1 V 1082.9 H 223.3" fill="none" stroke="#881f08" stroke-width="1"/>
<path d="M 223.8,1083.4 V 1078.1 c 0,-10 -8,8 -8,-7.5 s 8,2.5 8,-7.5 V 1058.6 H 369.4" fill="none" stroke="#e06e56" stroke-width="1"/>
<text x="231.2" y="1075.5" fill="#fff" stroke="#fff" stroke-width="0.2" font-size="14" letter-spacing="0.7">当按钮</text>
<rect x="279" y="1064" width="34.2" height="14.2" rx="4" fill="#fff" fill-opacity="0.6"/>
<text x="283.5" y="1076.4" fill="#222" stroke="#222" stroke-width="0" font-size="14" letter-spacing="0.7">B</text>
<path d="M 300.6,1069 h 5.4 l -2.7,4 Z" fill="#d2300d"/>
<text x="318" y="1075.5" fill="#fff" stroke="#fff" stroke-width="0.2" font-size="14" letter-spacing="0.7">按下时</text>
<rect x="152.5" y="1063.2" width="15.5" height="16" rx="3.5" fill="#2146f0" stroke="#fff" stroke-opacity="0.55" stroke-width="1"/>
<g transform="translate(160.3,1071.1) scale(0.87)"><path d="M -1.3,-5.2 h 2.6 l 0.4,1.5 1.3,0.75 1.5,-0.45 1.3,2.25 -1.1,1.1 v 1.5 l 1.1,1.1 -1.3,2.25 -1.5,-0.45 -1.3,0.75 -0.4,1.5 h -2.6 l -0.4,-1.5 -1.3,-0.75 -1.5,0.45 -1.3,-2.25 1.1,-1.1 v -1.5 l -1.1,-1.1 1.3,-2.25 1.5,0.45 1.3,-0.75 Z M 0,-2.5 a 2.5,2.5 0 1,0 0.01,0 Z" fill="#cfe6f4" fill-rule="evenodd"/></g>
<text x="176.8" y="1075.5" fill="#fff" stroke="#fff" stroke-width="0.2" font-size="14" letter-spacing="0.7">如果</text>
<text x="152" y="1100.5" fill="#fff" stroke="#fff" stroke-width="0.2" font-size="14" letter-spacing="0.7">执行</text>
<path d="M 190.9,1092.6 a 8,8 0 0,1 8,-8 H 205.9 l 6,4 3,0 6,-4 H 274.3 V 1111 H 266.8 l -6,4 -3,0 -6,-4 H 244.8 a 8,8 0 0,0 -8,8 V 1146.4 H 275.5 V 1159.6 H 220.9 l -6,4 -3,0 -6,-4 H 190.9 Z" fill="#9966ff"/>
<path d="M 275,1146.4 V 1159.1 H 220.9 l -6,4 -3,0 -6,-4 H 190.9" fill="none" stroke="#6342a6" stroke-width="1"/>
<path d="M 191.4,1159.6 V 1092.6 a 7.5,7.5 0 0,1 7.5,-7.5 H 205.9 l 6,4 3,0 6,-4 H 273.8" fill="none" stroke="#b894ff" stroke-width="1"/>
<rect x="193.7" y="1089.9" width="68.3" height="14.2" rx="4" fill="#fff" fill-opacity="0.6"/>
<text x="198.2" y="1102.3" fill="#222" stroke="#222" stroke-width="0" font-size="14" letter-spacing="0.7">重复当</text>
<path d="M 249.4,1094.9 h 5.4 l -2.7,4 Z" fill="#9966ff"/>
<path d="M 276.3,1084.6 H 422.8 V 1109.8 H 276.3 V 1104.6 c 0,-10 -8,8 -8,-7.5 s 8,2.5 8,-7.5 Z" fill="#d2300d"/>
<path d="M 422.3,1084.6 V 1109.3 H 276.3" fill="none" stroke="#881f08" stroke-width="1"/>
<path d="M 276.8,1109.8 V 1104.6 c 0,-10 -8,8 -8,-7.5 s 8,2.5 8,-7.5 V 1085.1 H 422.3" fill="none" stroke="#e06e56" stroke-width="1"/>
<text x="284.5" y="1101.7" fill="#fff" stroke="#fff" stroke-width="0.2" font-size="14" letter-spacing="0.7">当按钮</text>
<rect x="332" y="1090.5" width="34.2" height="14.2" rx="4" fill="#fff" fill-opacity="0.6"/>
<text x="336.5" y="1102.9" fill="#222" stroke="#222" stroke-width="0" font-size="14" letter-spacing="0.7">B</text>
<path d="M 353.6,1095.5 h 5.4 l -2.7,4 Z" fill="#d2300d"/>
<text x="371" y="1101.7" fill="#fff" stroke="#fff" stroke-width="0.2" font-size="14" letter-spacing="0.7">松开时</text>
<text x="199" y="1125.7" fill="#fff" stroke="#fff" stroke-width="0.2" font-size="14" letter-spacing="0.7">执行</text>
<path d="M 236.8,1138.2 H 244.8 V 1146.2 H 236.8 Z" fill="#9966ff"/>
<path d="M 236.8,1138.2 A 8,10.5 0 0,0 244.8,1148.7 H 275.5 V 1146.2 H 244.8 A 8,8 0 0,1 236.8,1138.2 Z" fill="#fff"/>
<path d="M 236.8,1119 a 8,8 0 0,1 8,-8 H 251.8 l 6,4 3,0 6,-4 H 369 V 1146.2 H 266.8 l -6,4 -3,0 -6,-4 H 244.8 a 8,8 0 0,1 -8,-8 Z" fill="#f6b92d"/>
<path d="M 368.5,1111 V 1145.7" fill="none" stroke="#d19d26" stroke-width="1"/>
<path d="M 368.5,1145.7 H 266.8 l -6,4 -3,0 -6,-4 H 244.8 a 7.5,7.5 0 0,1 -7.5,-7.5" fill="none" stroke="#a0781d" stroke-width="1"/>
<path d="M 237.3,1138.2 V 1119 a 7.5,7.5 0 0,1 7.5,-7.5 H 251.8 l 6,4 3,0 6,-4 H 368.5" fill="none" stroke="#f9ce6c" stroke-width="1"/>
<text x="245" y="1131.8" fill="#fff" stroke="#fff" stroke-width="0.2" font-size="14" letter-spacing="0.7">等待</text>
<path d="M 289,1115.9 H 323.2 V 1141.6 H 289 V 1135.9 c 0,-10 -8,8 -8,-7.5 s 8,2.5 8,-7.5 Z" fill="#5b75e6"/>
<path d="M 322.7,1115.9 V 1141.1 H 289" fill="none" stroke="#3b4c96" stroke-width="1"/>
<path d="M 289.5,1141.6 V 1135.9 c 0,-10 -8,8 -8,-7.5 s 8,2.5 8,-7.5 V 1116.4 H 322.7" fill="none" stroke="#8c9eee" stroke-width="1"/>
<rect x="293" y="1120.7" width="25.4" height="15.4" rx="4" fill="#fff" fill-opacity="0.6"/>
<text x="297" y="1133.7" fill="#222" stroke="#222" stroke-width="0" font-size="14" letter-spacing="0.7">20</text>
<text x="331" y="1131.8" fill="#fff" stroke="#fff" stroke-width="0.2" font-size="14" letter-spacing="0.7">毫秒</text>
<path d="M 190.9,1188.8 H 198.9 V 1196.8 H 190.9 Z" fill="#4c97ff"/>
<path d="M 190.9,1188.8 A 8,10.5 0 0,0 198.9,1199.3 H 222.9 V 1196.8 H 198.9 A 8,8 0 0,1 190.9,1188.8 Z" fill="#fff"/>
<path d="M 190.9,1159.6 H 205.9 l 6,4 3,0 6,-4 H 323.9 V 1196.8 H 220.9 l -6,4 -3,0 -6,-4 H 198.9 a 8,8 0 0,1 -8,-8 Z" fill="#fbab2f"/>
<path d="M 323.4,1159.6 V 1196.3" fill="none" stroke="#d59128" stroke-width="1"/>
<path d="M 323.4,1196.3 H 220.9 l -6,4 -3,0 -6,-4 H 198.9 a 7.5,7.5 0 0,1 -7.5,-7.5" fill="none" stroke="#a36f1f" stroke-width="1"/>
<path d="M 191.4,1188.8 V 1160.1 H 205.9 l 6,4 3,0 6,-4 H 323.4" fill="none" stroke="#fcc46d" stroke-width="1"/>
<text x="198.2" y="1177.4" fill="#fff" stroke="#fff" stroke-width="0.2" font-size="14" letter-spacing="0.7">赋值</text>
<rect x="231.5" y="1166" width="55.8" height="15" rx="4" fill="#fff" fill-opacity="0.6"/>
<text x="236" y="1178.8" fill="#222" stroke="#222" stroke-width="0" font-size="14" letter-spacing="0.7">num</text>
<path d="M 274.7,1171.4 h 5.4 l -2.7,4 Z" fill="#fbab2f"/>
<text x="291.3" y="1177.4" fill="#fff" stroke="#fff" stroke-width="0.2" font-size="14" letter-spacing="0.7">为</text>
<path d="M 323.4,1160.3 H 488.8 V 1195.9 H 323.4 V 1180.3 c 0,-10 -8,8 -8,-7.5 s 8,2.5 8,-7.5 Z" fill="#5b75e6"/>
<path d="M 488.3,1160.3 V 1195.4 H 323.4" fill="none" stroke="#3b4c96" stroke-width="1"/>
<path d="M 323.9,1195.9 V 1180.3 c 0,-10 -8,8 -8,-7.5 s 8,2.5 8,-7.5 V 1160.8 H 488.3" fill="none" stroke="#8c9eee" stroke-width="1"/>
<path d="M 338.1,1165.8 H 403.9 V 1191.9 H 338.1 V 1185.8 c 0,-10 -8,8 -8,-7.5 s 8,2.5 8,-7.5 Z" fill="#fbab2f"/>
<path d="M 403.4,1165.8 V 1191.4 H 338.1" fill="none" stroke="#a36f1f" stroke-width="1"/>
<path d="M 338.6,1191.9 V 1185.8 c 0,-10 -8,8 -8,-7.5 s 8,2.5 8,-7.5 V 1166.3 H 403.4" fill="none" stroke="#fcc46d" stroke-width="1"/>
<rect x="342.9" y="1171.2" width="55.8" height="15.2" rx="4" fill="#fff" fill-opacity="0.6"/>
<text x="347.4" y="1184.1" fill="#222" stroke="#222" stroke-width="0" font-size="14" letter-spacing="0.7">num</text>
<path d="M 386.1,1176.7 h 5.4 l -2.7,4 Z" fill="#fbab2f"/>
<rect x="408.1" y="1171.2" width="35.2" height="15.2" rx="4" fill="#fff" fill-opacity="0.6"/>
<text x="412.6" y="1184.1" fill="#222" stroke="#222" stroke-width="0" font-size="14" letter-spacing="0.7">+</text>
<path d="M 430.7,1176.7 h 5.4 l -2.7,4 Z" fill="#5b75e6"/>
<path d="M 454.4,1165.8 H 480.5 V 1191.9 H 454.4 V 1185.8 c 0,-10 -8,8 -8,-7.5 s 8,2.5 8,-7.5 Z" fill="#bec8f7"/>
<path d="M 480,1165.8 V 1191.4 H 454.4" fill="none" stroke="#7c82a1" stroke-width="1"/>
<path d="M 454.9,1191.9 V 1185.8 c 0,-10 -8,8 -8,-7.5 s 8,2.5 8,-7.5 V 1166.3 H 480" fill="none" stroke="#d2d8f9" stroke-width="1"/>
<rect x="458.5" y="1171.2" width="17.3" height="15.2" rx="4" fill="#fff" fill-opacity="0.6"/>
<text x="462.5" y="1184.1" fill="#222" stroke="#222" stroke-width="0" font-size="14" letter-spacing="0.7">1</text>
<path d="M 144.5,1209.8 H 159.5 l 6,4 3,0 6,-4 H 227.5 V 1247.5 H 220.8 l -6,4 -3,0 -6,-4 H 198.8 a 8,8 0 0,0 -8,8 V 1298.3 H 227.5 V 1338 H 220.8 l -6,4 -3,0 -6,-4 H 198.8 a 8,8 0 0,0 -8,8 V 1388.1 H 227.5 V 1401.7 H 174.5 l -6,4 -3,0 -6,-4 H 144.5 Z" fill="#4c97ff"/>
<path d="M 227,1388.1 V 1401.2 H 174.5 l -6,4 -3,0 -6,-4 H 144.5" fill="none" stroke="#3162a6" stroke-width="1"/>
<path d="M 145,1401.7 V 1210.3 H 159.5 l 6,4 3,0 6,-4 H 227" fill="none" stroke="#82b6ff" stroke-width="1"/>
<path d="M 228.1,1210.2 H 419.7 V 1246.4 H 228.1 V 1230.2 c 0,-10 -8,8 -8,-7.5 s 8,2.5 8,-7.5 Z" fill="#4c97ff"/>
<path d="M 419.2,1210.2 V 1245.9 H 228.1" fill="none" stroke="#3162a6" stroke-width="1"/>
<path d="M 228.6,1246.4 V 1230.2 c 0,-10 -8,8 -8,-7.5 s 8,2.5 8,-7.5 V 1210.7 H 419.2" fill="none" stroke="#82b6ff" stroke-width="1"/>
<path d="M 242.4,1216.3 H 335 V 1241.4 H 242.4 V 1236.3 c 0,-10 -8,8 -8,-7.5 s 8,2.5 8,-7.5 Z" fill="#fbab2f"/>
<path d="M 334.5,1216.3 V 1240.9 H 242.4" fill="none" stroke="#a36f1f" stroke-width="1"/>
<path d="M 242.9,1241.4 V 1236.3 c 0,-10 -8,8 -8,-7.5 s 8,2.5 8,-7.5 V 1216.8 H 334.5" fill="none" stroke="#fcc46d" stroke-width="1"/>
<rect x="246.8" y="1221" width="84.7" height="14.6" rx="4" fill="#fff" fill-opacity="0.6"/>
<text x="251.3" y="1233.6" fill="#222" stroke="#222" stroke-width="0" font-size="14" letter-spacing="0.7">isCollect</text>
<path d="M 318.9,1226.2 h 5.4 l -2.7,4 Z" fill="#fbab2f"/>
<rect x="339.3" y="1221" width="34.6" height="14.6" rx="4" fill="#fff" fill-opacity="0.6"/>
<text x="343.8" y="1233.6" fill="#222" stroke="#222" stroke-width="0" font-size="14" letter-spacing="0.7">=</text>
<path d="M 361.3,1226.2 h 5.4 l -2.7,4 Z" fill="#4c97ff"/>
<path d="M 385.8,1216.3 H 411.2 V 1241.4 H 385.8 V 1236.3 c 0,-10 -8,8 -8,-7.5 s 8,2.5 8,-7.5 Z" fill="#5b75e6"/>
<path d="M 410.7,1216.3 V 1240.9 H 385.8" fill="none" stroke="#3b4c96" stroke-width="1"/>
<path d="M 386.3,1241.4 V 1236.3 c 0,-10 -8,8 -8,-7.5 s 8,2.5 8,-7.5 V 1216.8 H 410.7" fill="none" stroke="#8c9eee" stroke-width="1"/>
<rect x="389" y="1221" width="20.5" height="14.6" rx="4" fill="#fff" fill-opacity="0.6"/>
<text x="393" y="1233.6" fill="#222" stroke="#222" stroke-width="0" font-size="14" letter-spacing="0.7">1</text>
<rect x="152.5" y="1215.5" width="15.5" height="16" rx="3.5" fill="#2146f0" stroke="#fff" stroke-opacity="0.55" stroke-width="1"/>
<g transform="translate(160.3,1223.4) scale(0.87)"><path d="M -1.3,-5.2 h 2.6 l 0.4,1.5 1.3,0.75 1.5,-0.45 1.3,2.25 -1.1,1.1 v 1.5 l 1.1,1.1 -1.3,2.25 -1.5,-0.45 -1.3,0.75 -0.4,1.5 h -2.6 l -0.4,-1.5 -1.3,-0.75 -1.5,0.45 -1.3,-2.25 1.1,-1.1 v -1.5 l -1.1,-1.1 1.3,-2.25 1.5,0.45 1.3,-0.75 Z M 0,-2.5 a 2.5,2.5 0 1,0 0.01,0 Z" fill="#cfe6f4" fill-rule="evenodd"/></g>
<text x="176.6" y="1227.5" fill="#fff" stroke="#fff" stroke-width="0.2" font-size="14" letter-spacing="0.7">如果</text>
<text x="151.9" y="1262.8" fill="#fff" stroke="#fff" stroke-width="0.2" font-size="14" letter-spacing="0.7">执行</text>
<path d="M 190.8,1290.3 H 198.8 V 1298.3 H 190.8 Z" fill="#4c97ff"/>
<path d="M 190.8,1290.3 A 8,10.5 0 0,0 198.8,1300.8 H 227.5 V 1298.3 H 198.8 A 8,8 0 0,1 190.8,1290.3 Z" fill="#fff"/>
<path d="M 190.8,1255.5 a 8,8 0 0,1 8,-8 H 205.8 l 6,4 3,0 6,-4 H 531.4 V 1298.3 H 220.8 l -6,4 -3,0 -6,-4 H 198.8 a 8,8 0 0,1 -8,-8 Z" fill="#ec783a"/>
<path d="M 530.9,1247.5 V 1297.8" fill="none" stroke="#c96631" stroke-width="1"/>
<path d="M 530.9,1297.8 H 220.8 l -6,4 -3,0 -6,-4 H 198.8 a 7.5,7.5 0 0,1 -7.5,-7.5" fill="none" stroke="#994e26" stroke-width="1"/>
<path d="M 191.3,1290.3 V 1255.5 a 7.5,7.5 0 0,1 7.5,-7.5 H 205.8 l 6,4 3,0 6,-4 H 530.9" fill="none" stroke="#f2a075" stroke-width="1"/>
<text x="198.3" y="1264.8" fill="#fff" stroke="#fff" stroke-width="0.2" font-size="14" letter-spacing="0.7">加载已保存的人脸数据</text>
<text x="198.3" y="1288.6" fill="#fff" stroke="#fff" stroke-width="0.2" font-size="14" letter-spacing="0.7">设置路径为 /sd/user 的加载人脸数据的文件名为</text>
<path d="M 532.2,1272.7 H 749.6 V 1297.6 H 532.2 V 1292.7 c 0,-10 -8,8 -8,-7.5 s 8,2.5 8,-7.5 Z" fill="#2fc18b"/>
<path d="M 749.1,1272.7 V 1297.1 H 532.2" fill="none" stroke="#1f7d5a" stroke-width="1"/>
<path d="M 532.7,1297.6 V 1292.7 c 0,-10 -8,8 -8,-7.5 s 8,2.5 8,-7.5 V 1273.2 H 749.1" fill="none" stroke="#6dd4ae" stroke-width="1"/>
<path d="M 5.2,0.3 Q 0.2,2.2 0,5.8 A 2.7,2.7 0 1,0 2.8,3.1 Q 3.3,1.8 5.4,1.2 Z" fill="#fff" transform="translate(539.9,1278.95)"/>
<path d="M 5.2,0.3 Q 0.2,2.2 0,5.8 A 2.7,2.7 0 1,0 2.8,3.1 Q 3.3,1.8 5.4,1.2 Z" fill="#fff" transform="translate(545.7,1278.95)"/>
<path d="M 5.2,0.3 Q 0.2,2.2 0,5.8 A 2.7,2.7 0 1,0 2.8,3.1 Q 3.3,1.8 5.4,1.2 Z" fill="#fff" transform="translate(729.3,1279.25) rotate(180 2.7 4.25)"/>
<path d="M 5.2,0.3 Q 0.2,2.2 0,5.8 A 2.7,2.7 0 1,0 2.8,3.1 Q 3.3,1.8 5.4,1.2 Z" fill="#fff" transform="translate(735.4,1279.25) rotate(180 2.7 4.25)"/>
<rect x="555.2" y="1277.55" width="169.1" height="15.3" rx="4" fill="#fff" fill-opacity="0.6"/>
<text x="558.7" y="1290.45" fill="#222" stroke="#222" stroke-width="0" font-size="14" letter-spacing="0.7">recorded_face_features</text>
<text x="151.9" y="1318.1" fill="#fff" stroke="#fff" stroke-width="0.2" font-size="14" letter-spacing="0.7">否则如果</text>
<path d="M 228.1,1301.7 H 419.7 V 1337.9 H 228.1 V 1321.7 c 0,-10 -8,8 -8,-7.5 s 8,2.5 8,-7.5 Z" fill="#4c97ff"/>
<path d="M 419.2,1301.7 V 1337.4 H 228.1" fill="none" stroke="#3162a6" stroke-width="1"/>
<path d="M 228.6,1337.9 V 1321.7 c 0,-10 -8,8 -8,-7.5 s 8,2.5 8,-7.5 V 1302.2 H 419.2" fill="none" stroke="#82b6ff" stroke-width="1"/>
<path d="M 242.4,1307.8 H 335 V 1332.9 H 242.4 V 1327.8 c 0,-10 -8,8 -8,-7.5 s 8,2.5 8,-7.5 Z" fill="#fbab2f"/>
<path d="M 334.5,1307.8 V 1332.4 H 242.4" fill="none" stroke="#a36f1f" stroke-width="1"/>
<path d="M 242.9,1332.9 V 1327.8 c 0,-10 -8,8 -8,-7.5 s 8,2.5 8,-7.5 V 1308.3 H 334.5" fill="none" stroke="#fcc46d" stroke-width="1"/>
<rect x="246.8" y="1312.5" width="84.7" height="14.6" rx="4" fill="#fff" fill-opacity="0.6"/>
<text x="251.3" y="1325.1" fill="#222" stroke="#222" stroke-width="0" font-size="14" letter-spacing="0.7">isCollect</text>
<path d="M 318.9,1317.7 h 5.4 l -2.7,4 Z" fill="#fbab2f"/>
<rect x="339.3" y="1312.5" width="34.6" height="14.6" rx="4" fill="#fff" fill-opacity="0.6"/>
<text x="343.8" y="1325.1" fill="#222" stroke="#222" stroke-width="0" font-size="14" letter-spacing="0.7">=</text>
<path d="M 361.3,1317.7 h 5.4 l -2.7,4 Z" fill="#4c97ff"/>
<path d="M 385.8,1307.8 H 411.2 V 1332.9 H 385.8 V 1327.8 c 0,-10 -8,8 -8,-7.5 s 8,2.5 8,-7.5 Z" fill="#5b75e6"/>
<path d="M 410.7,1307.8 V 1332.4 H 385.8" fill="none" stroke="#3b4c96" stroke-width="1"/>
<path d="M 386.3,1332.9 V 1327.8 c 0,-10 -8,8 -8,-7.5 s 8,2.5 8,-7.5 V 1308.3 H 410.7" fill="none" stroke="#8c9eee" stroke-width="1"/>
<rect x="389" y="1312.5" width="20.5" height="14.6" rx="4" fill="#fff" fill-opacity="0.6"/>
<text x="393" y="1325.1" fill="#222" stroke="#222" stroke-width="0" font-size="14" letter-spacing="0.7">2</text>
<text x="151.9" y="1353.7" fill="#fff" stroke="#fff" stroke-width="0.2" font-size="14" letter-spacing="0.7">执行</text>
<path d="M 190.8,1380.1 H 198.8 V 1388.1 H 190.8 Z" fill="#4c97ff"/>
<path d="M 190.8,1380.1 A 8,10.5 0 0,0 198.8,1390.6 H 227.5 V 1388.1 H 198.8 A 8,8 0 0,1 190.8,1380.1 Z" fill="#fff"/>
<path d="M 190.8,1346 a 8,8 0 0,1 8,-8 H 205.8 l 6,4 3,0 6,-4 H 531.4 V 1388.1 H 220.8 l -6,4 -3,0 -6,-4 H 198.8 a 8,8 0 0,1 -8,-8 Z" fill="#ec783a"/>
<path d="M 530.9,1338 V 1387.6" fill="none" stroke="#c96631" stroke-width="1"/>
<path d="M 530.9,1387.6 H 220.8 l -6,4 -3,0 -6,-4 H 198.8 a 7.5,7.5 0 0,1 -7.5,-7.5" fill="none" stroke="#994e26" stroke-width="1"/>
<path d="M 191.3,1380.1 V 1346 a 7.5,7.5 0 0,1 7.5,-7.5 H 205.8 l 6,4 3,0 6,-4 H 530.9" fill="none" stroke="#f2a075" stroke-width="1"/>
<text x="198.3" y="1355" fill="#fff" stroke="#fff" stroke-width="0.2" font-size="14" letter-spacing="0.7">采集新的人脸数据并保存人脸数据</text>
<text x="198.3" y="1379.8" fill="#fff" stroke="#fff" stroke-width="0.2" font-size="14" letter-spacing="0.7">设置路径为 /sd/user 的保存人脸数据的文件名为</text>
<path d="M 532.2,1363.7 H 749.6 V 1388.7 H 532.2 V 1383.7 c 0,-10 -8,8 -8,-7.5 s 8,2.5 8,-7.5 Z" fill="#2fc18b"/>
<path d="M 749.1,1363.7 V 1388.2 H 532.2" fill="none" stroke="#1f7d5a" stroke-width="1"/>
<path d="M 532.7,1388.7 V 1383.7 c 0,-10 -8,8 -8,-7.5 s 8,2.5 8,-7.5 V 1364.2 H 749.1" fill="none" stroke="#6dd4ae" stroke-width="1"/>
<path d="M 5.2,0.3 Q 0.2,2.2 0,5.8 A 2.7,2.7 0 1,0 2.8,3.1 Q 3.3,1.8 5.4,1.2 Z" fill="#fff" transform="translate(539.9,1370)"/>
<path d="M 5.2,0.3 Q 0.2,2.2 0,5.8 A 2.7,2.7 0 1,0 2.8,3.1 Q 3.3,1.8 5.4,1.2 Z" fill="#fff" transform="translate(545.7,1370)"/>
<path d="M 5.2,0.3 Q 0.2,2.2 0,5.8 A 2.7,2.7 0 1,0 2.8,3.1 Q 3.3,1.8 5.4,1.2 Z" fill="#fff" transform="translate(729.3,1370.3) rotate(180 2.7 4.25)"/>
<path d="M 5.2,0.3 Q 0.2,2.2 0,5.8 A 2.7,2.7 0 1,0 2.8,3.1 Q 3.3,1.8 5.4,1.2 Z" fill="#fff" transform="translate(735.4,1370.3) rotate(180 2.7 4.25)"/>
<rect x="555.2" y="1368.6" width="169.1" height="15.3" rx="4" fill="#fff" fill-opacity="0.6"/>
<text x="558.7" y="1381.5" fill="#222" stroke="#222" stroke-width="0" font-size="14" letter-spacing="0.7">recorded_face_features</text>
<path d="M 144.5,1418.7 H 152.5 V 1426.7 H 144.5 Z" fill="#9966ff"/>
<path d="M 144.5,1418.7 A 8,10.5 0 0,0 152.5,1429.2 H 173.8 V 1426.7 H 152.5 A 8,8 0 0,1 144.5,1418.7 Z" fill="#000"/>
<path d="M 144.5,1401.9 H 159.5 l 6,4 3,0 6,-4 H 438.7 V 1426.7 H 174.5 l -6,4 -3,0 -6,-4 H 152.5 a 8,8 0 0,1 -8,-8 Z" fill="#ec783a"/>
<path d="M 438.2,1401.9 V 1426.2" fill="none" stroke="#c96631" stroke-width="1"/>
<path d="M 438.2,1426.2 H 174.5 l -6,4 -3,0 -6,-4 H 152.5 a 7.5,7.5 0 0,1 -7.5,-7.5" fill="none" stroke="#994e26" stroke-width="1"/>
<path d="M 145,1418.7 V 1402.4 H 159.5 l 6,4 3,0 6,-4 H 438.2" fill="none" stroke="#f2a075" stroke-width="1"/>
<text x="152.5" y="1418.2" fill="#fff" stroke="#fff" stroke-width="0.2" font-size="14" letter-spacing="0.7">采集或者加载完成人脸数据并进行人脸识别</text>
<path d="M 51.2,1453.8 H 66.2 l 6,4 3,0 6,-4 H 170.9 V 1478.2 H 81.2 l -6,4 -3,0 -6,-4 H 51.2 Z" fill="#ec783a"/>
<path d="M 170.4,1453.8 V 1477.7" fill="none" stroke="#c96631" stroke-width="1"/>
<path d="M 170.4,1477.7 H 81.2 l -6,4 -3,0 -6,-4 H 51.2" fill="none" stroke="#994e26" stroke-width="1"/>
<path d="M 51.7,1478.2 V 1454.3 H 66.2 l 6,4 3,0 6,-4 H 170.4" fill="none" stroke="#f2a075" stroke-width="1"/>
<text x="59" y="1470.5" fill="#fff" stroke="#fff" stroke-width="0.2" font-size="14" letter-spacing="0.7">处理图像并显示</text>
<path d="M 51.2,1608.7 H 59.2 V 1616.7 H 51.2 Z" fill="#9966ff"/>
<path d="M 51.2,1608.7 A 8,10.5 0 0,0 59.2,1619.2 H 81 V 1616.7 H 59.2 A 8,8 0 0,1 51.2,1608.7 Z" fill="#000"/>
<path d="M 51.2,1477.8 H 66.2 l 6,4 3,0 6,-4 H 131.5 V 1516 H 128 l -6,4 -3,0 -6,-4 H 106 a 8,8 0 0,0 -8,8 V 1552.7 H 130.7 V 1567.2 H 128 l -6,4 -3,0 -6,-4 H 106 a 8,8 0 0,0 -8,8 V 1603.8 H 130.7 V 1616.7 H 81.2 l -6,4 -3,0 -6,-4 H 59.2 a 8,8 0 0,1 -8,-8 Z" fill="#4c97ff"/>
<path d="M 130.2,1603.8 V 1616.2 H 81.2 l -6,4 -3,0 -6,-4 H 59.2 a 7.5,7.5 0 0,1 -7.5,-7.5" fill="none" stroke="#3162a6" stroke-width="1"/>
<path d="M 51.7,1608.7 V 1478.3 H 66.2 l 6,4 3,0 6,-4 H 131" fill="none" stroke="#82b6ff" stroke-width="1"/>
<path d="M 131.5,1479.2 H 448.5 V 1516.5 H 131.5 V 1499.2 c 0,-10 -8,8 -8,-7.5 s 8,2.5 8,-7.5 Z" fill="#4c97ff"/>
<path d="M 448,1479.2 V 1516 H 131.5" fill="none" stroke="#3162a6" stroke-width="1"/>
<path d="M 132,1516.5 V 1499.2 c 0,-10 -8,8 -8,-7.5 s 8,2.5 8,-7.5 V 1479.7 H 448" fill="none" stroke="#82b6ff" stroke-width="1"/>
<path d="M 145.4,1484.9 H 211.1 V 1510.6 H 145.4 V 1504.9 c 0,-10 -8,8 -8,-7.5 s 8,2.5 8,-7.5 Z" fill="#2fc18b"/>
<path d="M 210.6,1484.9 V 1510.1 H 145.4" fill="none" stroke="#1f7d5a" stroke-width="1"/>
<path d="M 145.9,1510.6 V 1504.9 c 0,-10 -8,8 -8,-7.5 s 8,2.5 8,-7.5 V 1485.4 H 210.6" fill="none" stroke="#6dd4ae" stroke-width="1"/>
<path d="M 5.2,0.3 Q 0.2,2.2 0,5.8 A 2.7,2.7 0 1,0 2.8,3.1 Q 3.3,1.8 5.4,1.2 Z" fill="#fff" transform="translate(153.5,1491.55)"/>
<path d="M 5.2,0.3 Q 0.2,2.2 0,5.8 A 2.7,2.7 0 1,0 2.8,3.1 Q 3.3,1.8 5.4,1.2 Z" fill="#fff" transform="translate(159.3,1491.55)"/>
<path d="M 5.2,0.3 Q 0.2,2.2 0,5.8 A 2.7,2.7 0 1,0 2.8,3.1 Q 3.3,1.8 5.4,1.2 Z" fill="#fff" transform="translate(190.2,1491.85) rotate(180 2.7 4.25)"/>
<path d="M 5.2,0.3 Q 0.2,2.2 0,5.8 A 2.7,2.7 0 1,0 2.8,3.1 Q 3.3,1.8 5.4,1.2 Z" fill="#fff" transform="translate(196.3,1491.85) rotate(180 2.7 4.25)"/>
<rect x="169.7" y="1490.15" width="16.4" height="15.3" rx="4" fill="#fff" fill-opacity="0.6"/>
<text x="173.2" y="1503.05" fill="#222" stroke="#222" stroke-width="0" font-size="14" letter-spacing="0.7">1</text>
<rect x="215.2" y="1489" width="35.5" height="15.9" rx="4" fill="#fff" fill-opacity="0.6"/>
<text x="219.7" y="1502.25" fill="#222" stroke="#222" stroke-width="0" font-size="14" letter-spacing="0.7">=</text>
<path d="M 238.1,1494.85 h 5.4 l -2.7,4 Z" fill="#4c97ff"/>
<path d="M 262.1,1485.4 H 440.8 V 1509.6 H 262.1 V 1505.4 c 0,-10 -8,8 -8,-7.5 s 8,2.5 8,-7.5 Z" fill="#ec783a"/>
<path d="M 440.3,1485.4 V 1509.1 H 262.1" fill="none" stroke="#994e26" stroke-width="1"/>
<path d="M 262.6,1509.6 V 1505.4 c 0,-10 -8,8 -8,-7.5 s 8,2.5 8,-7.5 V 1485.9 H 440.3" fill="none" stroke="#f2a075" stroke-width="1"/>
<text x="270" y="1502" fill="#fff" stroke="#fff" stroke-width="0.2" font-size="14" letter-spacing="0.7">识别到了人脸模型的对象</text>
<rect x="59.8" y="1484.2" width="15.5" height="16" rx="3.5" fill="#2146f0" stroke="#fff" stroke-opacity="0.55" stroke-width="1"/>
<g transform="translate(67.6,1492.1) scale(0.87)"><path d="M -1.3,-5.2 h 2.6 l 0.4,1.5 1.3,0.75 1.5,-0.45 1.3,2.25 -1.1,1.1 v 1.5 l 1.1,1.1 -1.3,2.25 -1.5,-0.45 -1.3,0.75 -0.4,1.5 h -2.6 l -0.4,-1.5 -1.3,-0.75 -1.5,0.45 -1.3,-2.25 1.1,-1.1 v -1.5 l -1.1,-1.1 1.3,-2.25 1.5,0.45 1.3,-0.75 Z M 0,-2.5 a 2.5,2.5 0 1,0 0.01,0 Z" fill="#cfe6f4" fill-rule="evenodd"/></g>
<text x="83.7" y="1496" fill="#fff" stroke="#fff" stroke-width="0.2" font-size="14" letter-spacing="0.7">如果</text>
<text x="59.3" y="1531.5" fill="#fff" stroke="#fff" stroke-width="0.2" font-size="14" letter-spacing="0.7">执行</text>
<text x="59.3" y="1583.3" fill="#fff" stroke="#fff" stroke-width="0.2" font-size="14" letter-spacing="0.7">否则</text>
<path d="M 98,1544.7 H 106 V 1552.7 H 98 Z" fill="#4c97ff"/>
<path d="M 98,1544.7 A 8,10.5 0 0,0 106,1555.2 H 130.7 V 1552.7 H 106 A 8,8 0 0,1 98,1544.7 Z" fill="#000"/>
<path d="M 98,1524 a 8,8 0 0,1 8,-8 H 113 l 6,4 3,0 6,-4 H 551 V 1552.7 H 128 l -6,4 -3,0 -6,-4 H 106 a 8,8 0 0,1 -8,-8 Z" fill="#3b6ec9"/>
<path d="M 550.5,1516 V 1552.2" fill="none" stroke="#325eab" stroke-width="1"/>
<path d="M 550.5,1552.2 H 128 l -6,4 -3,0 -6,-4 H 106 a 7.5,7.5 0 0,1 -7.5,-7.5" fill="none" stroke="#264883" stroke-width="1"/>
<path d="M 98.5,1544.7 V 1524 a 7.5,7.5 0 0,1 7.5,-7.5 H 113 l 6,4 3,0 6,-4 H 550.5" fill="none" stroke="#769ad9" stroke-width="1"/>
<text x="106" y="1538.85" fill="#fff" stroke="#fff" stroke-width="0.2" font-size="14" letter-spacing="0.7">AI 模块设置位于引脚 #</text>
<rect x="260.2" y="1527.05" width="40.4" height="14.6" rx="4" fill="#fff" fill-opacity="0.6"/>
<text x="264.7" y="1539.65" fill="#222" stroke="#222" stroke-width="0" font-size="14" letter-spacing="0.7">14</text>
<path d="M 288,1532.25 h 5.4 l -2.7,4 Z" fill="#3b6ec9"/>
<text x="305.5" y="1538.85" fill="#fff" stroke="#fff" stroke-width="0.2" font-size="14" letter-spacing="0.7">的舵机转动至</text>
<path d="M 408.6,1521.3 H 451.1 V 1547.4 H 408.6 V 1541.3 c 0,-10 -8,8 -8,-7.5 s 8,2.5 8,-7.5 Z" fill="#bec8f7"/>
<path d="M 450.6,1521.3 V 1546.9 H 408.6" fill="none" stroke="#7c82a1" stroke-width="1"/>
<path d="M 409.1,1547.4 V 1541.3 c 0,-10 -8,8 -8,-7.5 s 8,2.5 8,-7.5 V 1521.8 H 450.6" fill="none" stroke="#d2d8f9" stroke-width="1"/>
<rect x="412.5" y="1526.55" width="34.1" height="15.6" rx="4" fill="#fff" fill-opacity="0.6"/>
<text x="416.5" y="1539.65" fill="#222" stroke="#222" stroke-width="0" font-size="14" letter-spacing="0.7">120</text>
<text x="459" y="1538.85" fill="#fff" stroke="#fff" stroke-width="0.2" font-size="14" letter-spacing="0.7">度 (0°~180°)</text>
<path d="M 98,1595.8 H 106 V 1603.8 H 98 Z" fill="#4c97ff"/>
<path d="M 98,1595.8 A 8,10.5 0 0,0 106,1606.3 H 130.7 V 1603.8 H 106 A 8,8 0 0,1 98,1595.8 Z" fill="#000"/>
<path d="M 98,1575.2 a 8,8 0 0,1 8,-8 H 113 l 6,4 3,0 6,-4 H 542.5 V 1603.8 H 128 l -6,4 -3,0 -6,-4 H 106 a 8,8 0 0,1 -8,-8 Z" fill="#3b6ec9"/>
<path d="M 542,1567.2 V 1603.3" fill="none" stroke="#325eab" stroke-width="1"/>
<path d="M 542,1603.3 H 128 l -6,4 -3,0 -6,-4 H 106 a 7.5,7.5 0 0,1 -7.5,-7.5" fill="none" stroke="#264883" stroke-width="1"/>
<path d="M 98.5,1595.8 V 1575.2 a 7.5,7.5 0 0,1 7.5,-7.5 H 113 l 6,4 3,0 6,-4 H 542" fill="none" stroke="#769ad9" stroke-width="1"/>
<text x="106" y="1590" fill="#fff" stroke="#fff" stroke-width="0.2" font-size="14" letter-spacing="0.7">AI 模块设置位于引脚 #</text>
<rect x="260.2" y="1578.2" width="40.4" height="14.6" rx="4" fill="#fff" fill-opacity="0.6"/>
<text x="264.7" y="1590.8" fill="#222" stroke="#222" stroke-width="0" font-size="14" letter-spacing="0.7">14</text>
<path d="M 288,1583.4 h 5.4 l -2.7,4 Z" fill="#3b6ec9"/>
<text x="305.5" y="1590" fill="#fff" stroke="#fff" stroke-width="0.2" font-size="14" letter-spacing="0.7">的舵机转动至</text>
<path d="M 408.6,1572.5 H 443.2 V 1598.5 H 408.6 V 1592.5 c 0,-10 -8,8 -8,-7.5 s 8,2.5 8,-7.5 Z" fill="#bec8f7"/>
<path d="M 442.7,1572.5 V 1598 H 408.6" fill="none" stroke="#7c82a1" stroke-width="1"/>
<path d="M 409.1,1598.5 V 1592.5 c 0,-10 -8,8 -8,-7.5 s 8,2.5 8,-7.5 V 1573 H 442.7" fill="none" stroke="#d2d8f9" stroke-width="1"/>
<rect x="412.5" y="1577.7" width="26.2" height="15.6" rx="4" fill="#fff" fill-opacity="0.6"/>
<text x="416.5" y="1590.8" fill="#222" stroke="#222" stroke-width="0" font-size="14" letter-spacing="0.7">90</text>
<text x="450" y="1590" fill="#fff" stroke="#fff" stroke-width="0.2" font-size="14" letter-spacing="0.7">度 (0°~180°)</text>
</svg>
</body></html>
